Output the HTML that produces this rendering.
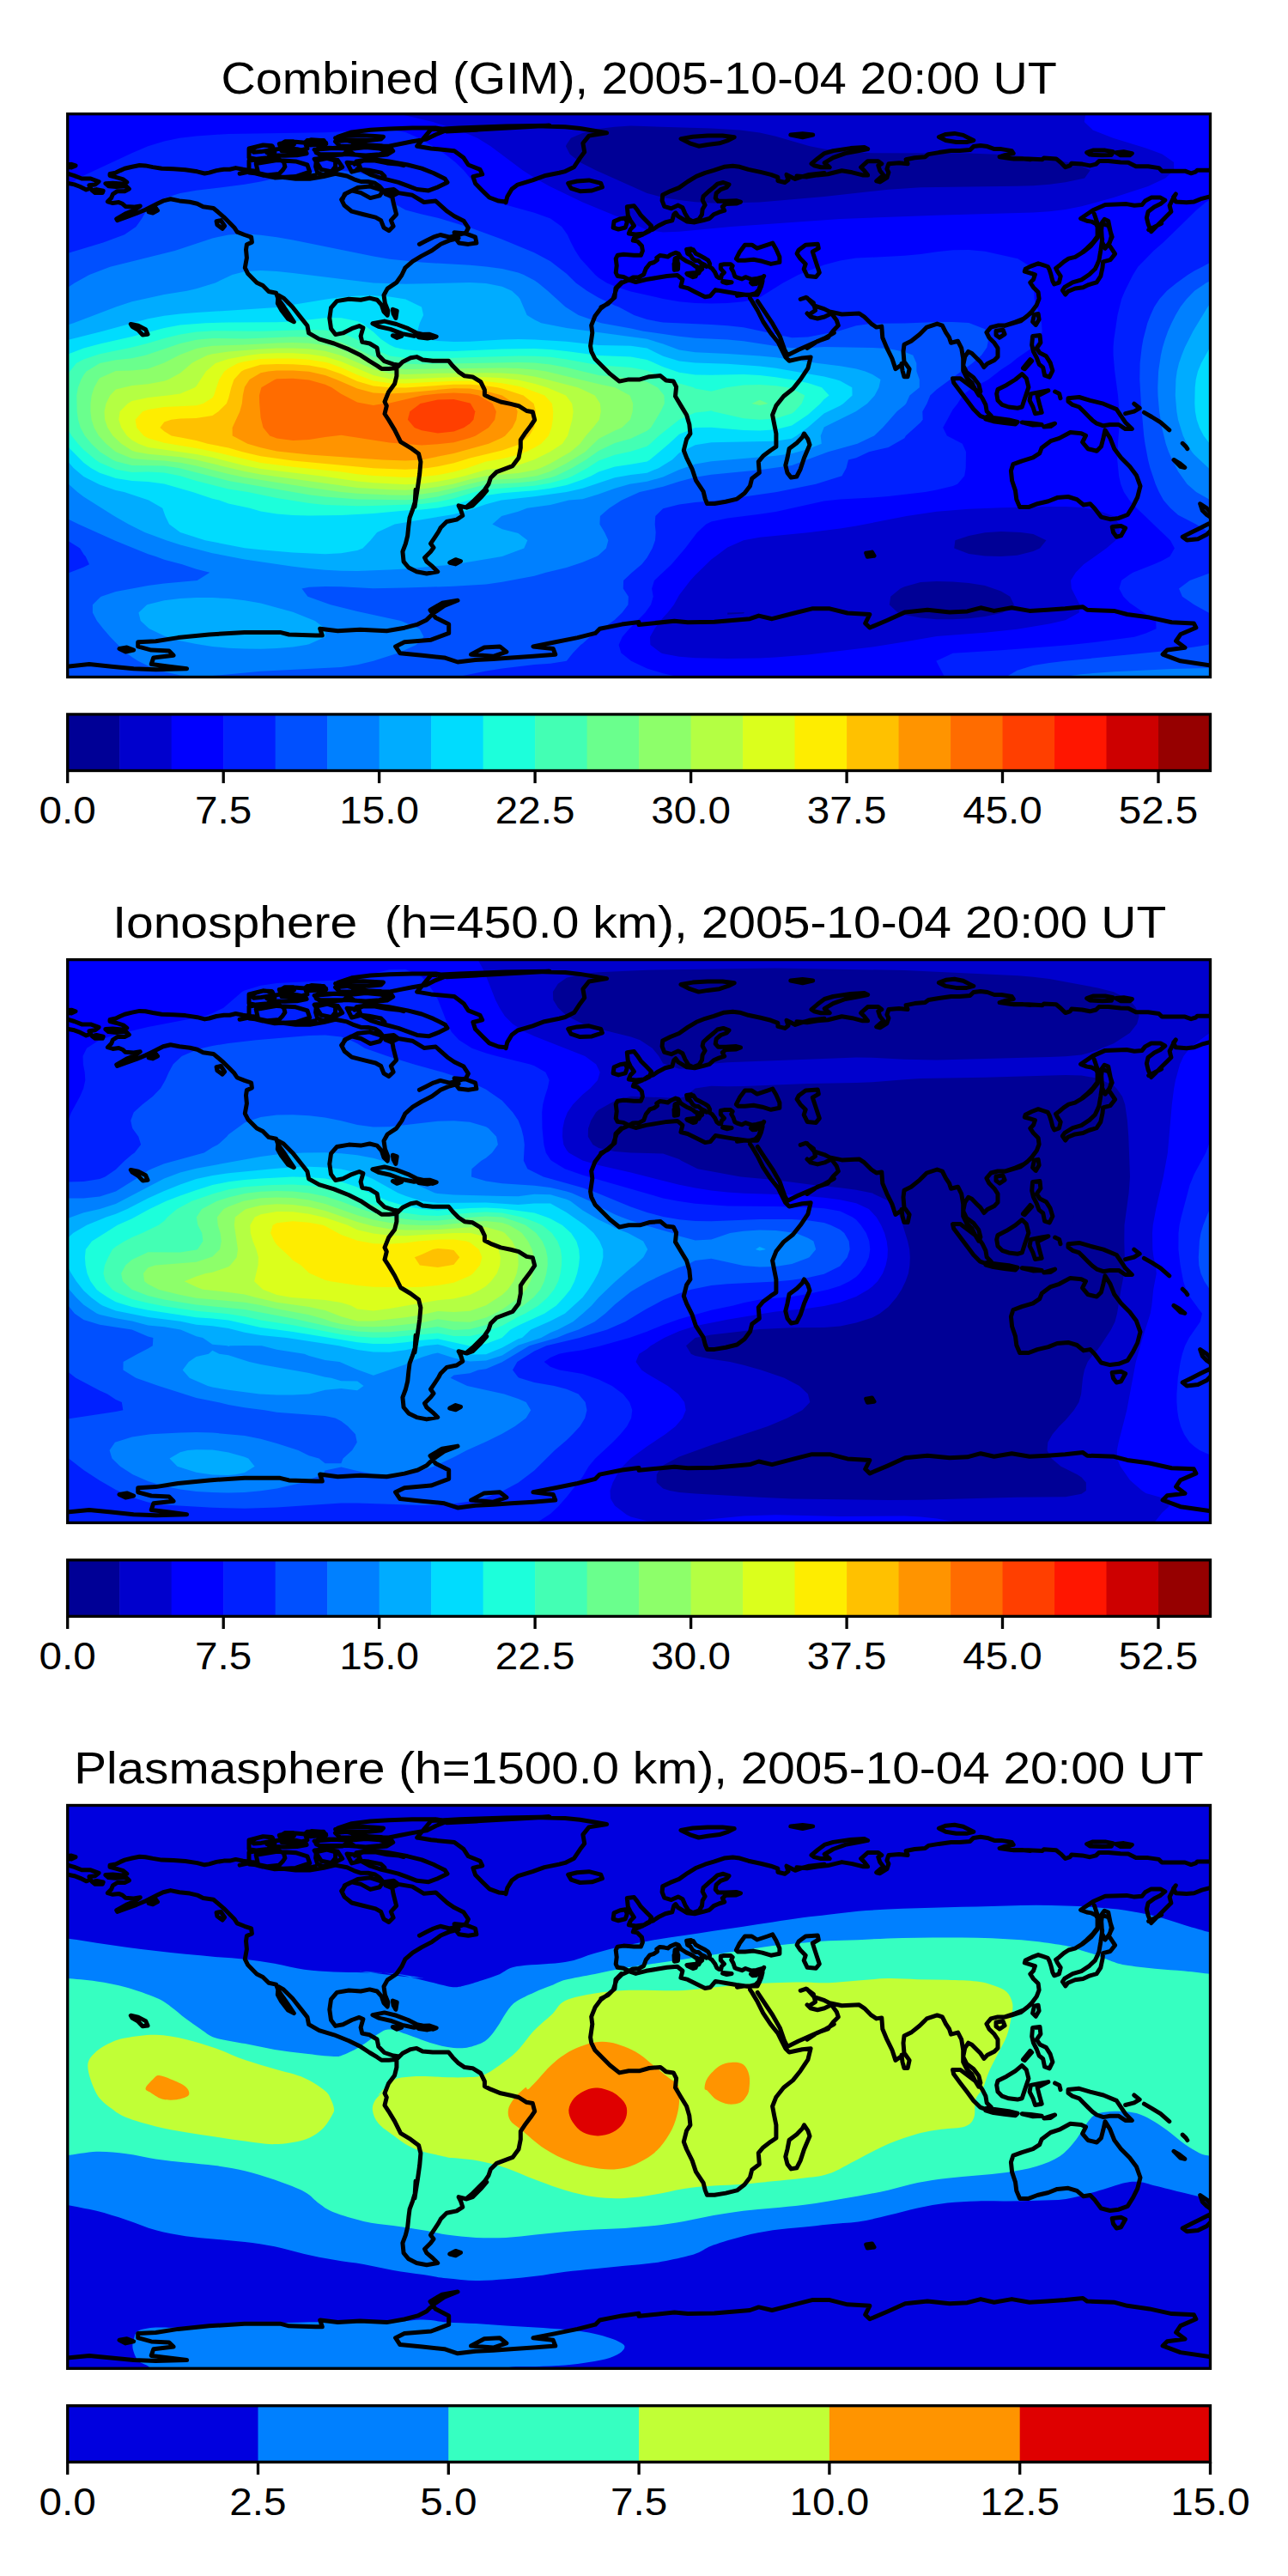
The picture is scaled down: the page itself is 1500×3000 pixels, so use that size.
<!DOCTYPE html><html><head><meta charset="utf-8"><style>html,body{margin:0;padding:0;background:#fff;}svg{display:block;}text{font-family:"Liberation Sans",sans-serif;fill:#000;}</style></head><body><svg xmlns="http://www.w3.org/2000/svg" xmlns:xlink="http://www.w3.org/1999/xlink" width="1500" height="3000" viewBox="0 0 1500 3000"><rect width="1500" height="3000" fill="#fff"/><defs><clipPath id="c0"><rect x="78.7" y="132.7" width="1330.8" height="655.8"/></clipPath><clipPath id="c1"><rect x="78.7" y="1117.6" width="1330.8" height="655.8"/></clipPath><clipPath id="c2"><rect x="78.7" y="2102.5" width="1330.8" height="655.8"/></clipPath><path id="coast" d="M78.0 191.7 83.2 191.3 88.0 192.9 83.2 195.1 78.0 194.6M74.6 201.1 78.0 202.0 86.6 204.6 95.2 208.0 105.6 208.0 115.1 211.5 110.7 214.9 103.9 215.8 105.6 219.2 100.4 221.0 93.5 217.5 86.6 214.9 78.0 213.2 74.6 212.9M107.3 221.8 112.5 220.6 120.2 222.2 119.4 224.4 110.7 224.4ZM172.8 243.9 181.4 242.2 183.5 245.1 178.0 248.0 173.1 246.8ZM252.1 257.7 257.2 256.6 261.6 263.2 259.0 266.3 252.9 261.8ZM300.0 199.4 291.7 198.6 283.1 197.3 274.5 195.6 267.6 197.3 260.7 197.3 252.1 198.6 243.5 201.1 238.3 202.0 229.7 199.8 215.9 197.7 202.1 196.8 188.3 196.3 178.0 194.6 169.3 192.9 162.5 192.5 153.8 194.2 145.2 196.3 140.0 198.6 134.9 201.1 128.0 202.5 128.0 204.6 134.9 206.3 143.5 208.9 147.8 212.3 141.8 214.1 131.4 213.2 122.8 213.7 126.3 216.7 134.9 217.5 146.9 216.7 150.4 220.1 145.2 222.7 136.6 222.7 131.4 226.1 129.7 230.4 125.4 234.8 131.4 236.5 138.3 235.6 142.6 237.3 146.1 240.4 155.6 241.1 163.3 239.9 157.3 244.2 146.9 248.5 135.7 254.9 136.6 256.6 146.9 252.8 159.0 248.5 169.3 244.2 176.2 240.8 183.1 237.3 190.0 233.9 198.6 231.8 209.0 233.9 221.1 235.3 229.7 237.3 236.6 240.8 248.6 242.5 253.8 246.8 260.7 252.8 267.6 259.7 272.8 264.9 276.2 270.1 284.8 273.5 292.6 276.1 293.4 282.1 287.4 284.7 286.5 290.8 287.4 300.2 285.3 311.9 288.8 318.8 299.1 329.2 306.1 332.6 313.0 339.5 321.6 341.3 324.0 348.2 330.2 356.8 337.2 367.2 342.3 374.8 335.4 371.3 327.5 360.9 323.3 353.3 324.0 343.7 330.2 347.1 340.6 357.5 351.0 370.6 357.9 379.3 359.6 387.9 371.7 394.8 389.0 400.0 406.3 406.9 420.1 413.8 430.5 420.7 439.1 425.9 444.3 429.4 452.9 429.4 459.8 428.7M465.0 425.2 458.1 424.2 447.7 420.7 440.8 413.8 439.1 405.2 430.5 400.0 421.8 398.3 420.1 391.4 422.9 381.7 418.4 379.6 409.7 382.7 399.4 387.9 390.7 389.6 385.5 382.7 383.8 370.6 385.5 358.5 392.4 350.6 406.3 348.2 420.1 349.2 430.5 347.1 439.1 349.2 444.3 355.1 447.0 363.0 451.2 367.2 451.9 362.0 448.4 353.3 447.0 343.7 451.2 336.1 461.6 329.2 467.8 320.5 471.9 311.9 480.6 304.3 490.9 298.1 503.0 291.8 513.4 284.2 523.1 280.1 534.1 277.3M433.9 376.8 447.7 374.1 461.6 377.5 475.4 382.7 485.7 387.9 492.7 389.6 482.3 391.4 468.5 388.6 454.6 383.4 440.8 380.3ZM485.7 389.6 500.3 389.3 508.2 392.0 497.8 394.1 487.5 392.7ZM457.4 390.7 467.8 391.4 462.2 393.4ZM457.4 360.3 462.2 362.0 460.9 370.6 458.1 365.4ZM152.3 377.5 160.9 379.3 169.6 383.8 172.0 389.3 166.1 390.0 160.9 384.4 154.0 380.3ZM402.8 225.5 416.6 218.6 430.5 216.9 444.3 221.3 456.4 226.2 458.1 235.9 461.6 249.7 455.3 256.6 458.1 263.5 452.9 268.7 447.0 265.2 443.6 256.6 437.4 253.1 423.5 249.7 409.7 246.2 401.1 239.3 397.6 232.4ZM290.0 173.0 306.3 168.9 317.2 170.2 319.9 177.0 311.7 183.8 298.2 185.2 290.0 183.8ZM298.2 190.6 322.6 186.5 344.3 187.9 357.9 192.0 360.7 200.1 344.3 205.6 319.9 206.9 300.9 202.9ZM325.3 167.5 338.9 164.8 355.2 166.2 357.9 173.0 344.3 177.0 328.0 175.7ZM357.9 163.5 377.0 163.5 379.7 167.5 360.7 168.9ZM366.1 174.3 382.4 173.0 398.7 171.6 412.3 173.0 425.9 171.6 442.2 173.0 453.0 175.7 442.2 179.8 425.9 181.1 406.8 179.8 387.8 179.8 371.5 179.8ZM366.1 185.2 379.7 183.8 393.3 186.5 398.7 194.7 387.8 200.1 374.2 197.4ZM404.1 189.3 417.7 190.6 420.4 197.4 409.6 200.1ZM409.6 153.9 431.3 151.2 453.0 149.9 480.2 149.0 507.4 149.0 521.0 151.2 507.4 156.7 496.5 162.1 480.2 164.8 466.6 167.5 453.0 170.2 436.7 170.2 420.4 167.5 404.1 163.5 393.3 159.4ZM390.5 164.8 404.1 163.5 415.0 166.2 409.6 170.2 396.0 170.2ZM415.0 187.9 431.3 185.2 453.0 187.9 474.8 192.0 491.1 196.1 504.7 201.5 518.3 208.3 521.0 212.4 510.1 217.8 499.2 221.9 485.7 220.5 474.8 216.4 463.9 212.4 453.0 209.6 442.2 206.9 431.3 203.4 420.4 197.4ZM447.6 221.9 458.5 220.5 463.9 224.6 455.8 228.7 449.0 226.0ZM279.1 202.3 290.0 200.1 306.3 204.2 322.6 205.6 344.3 208.3 360.7 208.3 377.0 205.6 390.5 202.3 404.1 205.0 412.3 208.8 420.4 211.5 428.6 211.5 436.7 213.2 442.2 217.0 446.2 221.9 442.2 227.9 431.3 230.6 420.4 224.6 409.6 221.9 401.4 226.0 398.7 232.7M455.8 223.2 463.9 224.6 480.2 227.3 493.8 235.5 507.4 234.1 521.0 246.3 529.1 251.8 540.0 257.2 545.4 265.4 542.7 270.8 534.6 273.5 523.7 276.2 512.8 273.5 504.7 276.2 496.5 280.3 488.4 284.4M529.1 270.8 542.7 272.1 553.6 276.2 554.9 283.0 545.4 284.4 534.6 283.0 530.5 277.6ZM485.7 170.2 502.0 173.0 529.1 175.7 540.0 183.8 545.4 192.0 559.0 197.4 561.7 202.9 550.9 205.6 553.6 213.7 561.7 221.9 569.9 230.0 580.8 234.1 588.9 234.9 589.1 235.9 590.8 229.0 596.0 220.3 602.9 215.1 620.2 209.9 634.0 204.8 651.3 201.3 658.2 199.6 668.6 194.4 675.5 184.0 680.7 177.1 678.9 166.8 685.9 158.1 706.6 154.7 675.5 149.5 658.2 147.7 623.7 146.7 589.1 147.7 554.6 151.2 520.0 152.9 640.0 146.3 588.9 147.1 534.6 149.0 502.0 150.7 485.7 170.2M661.7 213.4 672.0 211.0 685.9 209.9 699.7 213.4 701.4 217.9 689.3 222.0 675.5 222.7 665.1 219.3ZM793.0 161.6 806.8 159.2 824.1 158.1 841.4 158.1 855.2 159.8 848.3 163.3 837.9 166.8 824.1 168.5 813.7 170.2 803.3 166.8ZM920.8 157.1 934.7 155.7 946.7 157.1 934.7 159.8ZM730.3 240.8 738.4 239.7 742.4 244.8 746.4 250.8 752.5 256.9 758.5 263.0 756.5 269.0 750.5 272.0 740.4 273.1 732.3 272.0 734.3 267.0 738.4 263.0 734.3 256.9 731.3 250.8ZM715.1 257.9 722.2 254.9 728.3 253.9 730.3 258.9 728.3 265.0 720.2 267.0 714.1 265.0ZM960.0 201.4 942.2 203.4 932.1 206.4 926.1 208.5 920.0 205.4 916.0 203.4 918.0 209.5 914.0 212.5 905.9 210.5 905.9 206.4 897.8 203.4 885.7 200.4 871.6 197.4 861.5 194.3 853.4 193.3 843.3 194.3 831.2 198.4 821.1 201.4 811.0 205.4 800.9 211.5 790.8 218.6 780.7 222.6 771.7 227.0 771.1 233.7 773.7 240.4 781.8 242.8 789.8 239.1 794.9 241.8 797.9 248.8 801.9 255.3 807.0 257.9 814.0 255.3 817.5 249.8 818.1 243.8 821.1 238.7 818.1 233.1 819.1 228.6 825.2 223.0 831.2 218.1 835.6 214.1 842.3 212.5 849.0 214.9 846.3 218.1 839.3 220.6 834.2 225.0 833.2 230.7 836.3 234.3 845.3 234.3 857.4 233.7 862.5 235.1 857.4 237.1 845.3 237.5 841.3 240.8 843.7 245.2 837.3 247.2 831.2 249.8 826.2 254.5 819.1 256.5 809.0 258.9 799.9 257.9 794.9 254.9 789.8 251.9 786.8 247.8 784.8 249.8 782.8 256.9 774.7 258.9 766.6 263.0 760.6 267.0 754.5 269.0 748.4 273.1 743.4 275.1 738.4 277.1 737.3 280.1 742.4 281.1 747.4 286.2 748.4 292.2 746.4 297.3 738.4 297.3 726.2 296.3 719.2 297.3 717.2 301.3 718.2 309.4 717.2 317.5 719.2 321.5 726.2 322.5 732.3 325.5M857.4 301.3 861.5 293.2 867.5 285.2 875.6 285.2 881.7 289.2 893.8 285.2 899.8 283.1 903.9 290.2 907.9 299.3 907.9 305.4 897.8 307.4 887.7 304.3 877.6 302.3 867.5 303.3 859.5 303.3ZM930.1 291.2 938.2 285.2 952.3 284.2 953.3 289.2 946.3 293.2 950.3 305.4 954.3 317.5 950.3 322.5 940.2 321.5 936.2 313.4 938.2 307.4 932.1 301.3 928.1 295.3ZM700.0 357.8 708.1 353.8 714.1 347.7 716.1 341.7 718.2 335.6 724.2 329.6 732.3 325.9 740.4 328.6 752.5 325.5 764.6 323.5 776.7 321.5 788.8 320.5 794.9 325.5 792.9 333.6 800.9 335.6 809.0 339.7 821.1 345.7 827.2 344.7 833.2 337.6 845.3 339.7 857.4 341.7 871.6 343.7 879.7 341.7 883.7 337.6 887.7 325.5 889.7 321.5M945.0 190.7 952.1 184.7 960.2 178.6 970.3 175.6 990.5 172.6 1006.6 171.6 1010.6 173.6 1000.6 175.6 984.4 178.6 970.3 183.7 960.2 189.7 966.2 194.8 956.1 194.8 948.1 192.8ZM1093.4 159.5 1101.5 156.4 1111.6 155.4 1121.7 157.4 1129.7 161.5 1133.8 163.5 1125.7 165.5 1113.6 165.5 1101.5 163.5ZM927.9 204.9 940.0 205.9 952.1 203.9 964.2 202.8 976.3 199.8 980.4 198.8 992.5 200.8 1004.6 203.9 1010.6 203.9 1006.6 198.8 1002.6 194.8 1010.6 187.7 1022.8 187.7 1026.8 190.7 1022.8 192.8 1024.8 198.8 1028.8 203.9 1020.7 210.9 1024.8 211.9 1032.9 206.9 1034.9 200.8 1032.9 196.8 1034.9 190.7 1047.0 189.7 1057.1 190.7 1055.1 185.7 1065.2 183.7 1077.3 182.7 1081.3 179.6 1093.4 177.6 1107.5 175.6 1117.6 175.6 1129.7 174.6 1133.8 170.6 1141.9 169.5 1149.9 170.6 1158.0 173.6 1166.1 173.6 1178.2 175.6 1180.2 178.6 1170.1 180.6 1164.1 182.7 1178.2 184.7 1190.3 184.7 1200.0 185.7M1180.0 184.9 1197.9 184.9 1213.9 185.8 1215.7 184.0 1230.0 184.9 1235.4 189.3 1240.7 194.7 1246.1 192.9 1247.9 190.2 1260.4 191.1 1269.3 192.9 1276.4 191.1 1280.0 187.6 1290.7 187.6 1305.0 189.0 1313.9 189.3 1322.9 193.8 1337.1 193.8 1349.6 195.6 1353.2 199.2 1367.5 199.2 1380.0 199.2 1387.1 201.8 1392.5 200.1 1394.3 198.3 1410.0 198.3 1419.3 197.4M1265.7 177.7 1272.9 175.1 1287.1 175.1 1296.1 176.8 1294.3 180.4 1283.6 180.8 1269.3 180.1ZM1299.6 177.7 1308.6 176.8 1318.4 178.6 1315.7 180.8 1305.0 180.8ZM1419.3 226.8 1410.0 228.6 1399.6 231.3 1390.7 234.9 1381.8 235.8 1369.3 234.9 1366.6 229.5 1369.3 226.0 1365.7 232.2 1362.1 239.3 1363.9 246.5 1358.6 251.8 1353.2 257.2 1346.1 264.3 1340.7 269.7 1337.1 260.8 1335.4 253.6 1337.1 246.5 1344.3 241.1 1351.4 237.6 1356.8 233.1 1351.4 230.1 1340.7 230.1 1333.6 234.0 1330.0 238.5 1321.1 239.3 1312.1 237.6 1287.1 238.5 1272.9 244.7 1258.6 254.5 1265.7 257.2 1271.1 258.1 1276.4 260.8 1280.0 267.9 1278.2 275.1 1272.9 282.2 1265.7 289.3 1260.4 293.8M1286.2 255.4 1290.7 257.2 1294.3 275.1 1292.5 282.2 1287.1 289.3 1283.6 282.2 1282.7 267.9 1283.6 259.0ZM1274.3 249.0 1278.1 260.2 1278.1 277.0 1270.6 286.3 1261.3 293.7 1252.0 299.3 1244.5 301.2 1238.9 304.9 1233.4 309.6 1229.6 312.4 1231.5 316.1 1235.2 321.7 1233.4 329.1 1227.8 331.0 1225.9 327.3 1224.0 319.8 1222.2 314.2 1220.3 310.5 1214.7 308.6 1209.1 306.8 1201.7 309.6 1194.2 313.3 1193.3 316.1 1199.8 318.0 1205.4 319.8 1203.5 325.4 1199.8 329.1 1203.5 334.7 1209.1 340.3 1210.1 347.8 1207.3 355.2 1201.7 362.7 1196.1 368.3 1188.6 373.9 1179.3 376.7 1170.0 379.4M1282.7 260.2 1291.1 263.0 1295.2 276.0 1291.1 284.4 1298.6 295.6 1293.0 302.7 1284.6 304.9 1284.0 311.4 1281.8 321.7 1277.1 328.8 1267.8 331.6 1261.3 334.7 1252.0 336.0 1243.6 339.4 1240.8 343.1 1237.4 338.1 1239.9 334.4 1249.2 328.8 1259.4 325.8 1268.8 319.5 1275.3 313.3 1277.7 308.3 1279.9 303.1 1281.8 291.9 1283.7 278.8 1281.4 267.7ZM1204.5 366.4 1209.1 365.5 1210.1 372.0 1206.3 378.5 1202.6 374.8ZM1202.6 391.6 1211.0 390.6 1211.9 399.0 1207.3 405.5 1211.0 411.1 1218.4 414.8 1223.1 422.3 1225.9 431.6 1222.2 439.1 1216.6 437.2 1214.7 427.9 1210.1 424.2 1207.3 416.7 1203.5 409.3 1201.7 401.8ZM1191.4 428.8 1199.8 418.6 1201.7 420.4 1193.3 429.8ZM1337.7 267.7 1345.1 263.9 1352.6 260.2M940.0 346.8 948.1 355.9 960.2 359.9 966.2 363.0 980.4 366.0 1000.6 365.0 1006.6 369.0 1014.7 377.1 1020.7 381.1 1026.8 380.1 1027.8 393.2 1032.9 405.4 1038.9 417.5 1042.9 429.6 1049.0 425.5 1053.0 421.5 1052.0 409.4 1053.0 401.3 1061.1 397.3 1071.2 389.2 1079.3 381.1 1091.4 377.1 1097.4 379.1 1101.5 387.2 1105.5 393.2 1107.5 399.3 1115.6 397.3 1119.7 405.4 1121.7 417.5 1121.7 431.6 1125.7 439.7 1131.8 445.7 1135.8 453.8 1139.8 460.3 1141.9 455.8 1139.8 447.7 1133.8 439.7 1125.7 433.6 1121.7 425.5 1123.7 415.4 1127.7 409.4 1131.8 411.4 1137.8 417.5 1141.9 421.5 1145.9 427.6 1149.9 423.5 1158.0 419.5 1162.0 415.4 1162.0 405.4 1158.0 399.3 1151.9 393.2 1148.9 387.2 1154.0 381.1 1162.0 379.1 1170.1 379.1 1182.2 375.1 1192.3 371.0 1200.0 365.0M1050.0 423.5 1054.0 422.5 1059.1 429.6 1057.1 438.7 1053.0 438.7 1051.0 431.6ZM1160.0 385.2 1168.1 384.2 1170.1 389.2 1164.1 393.2 1160.0 390.2ZM940.0 365.0 944.0 369.0 952.1 371.0 960.2 369.0 968.3 365.0 974.3 373.1 976.3 379.1 970.3 385.2 964.2 393.2 952.1 397.3 940.0 405.4M723.5 328.9 717.0 335.4 715.9 346.3 708.3 352.8 699.6 359.3 693.0 368.0 688.7 378.9 689.8 387.6 687.6 402.8 688.7 409.3 693.0 418.0 701.7 426.7 710.4 435.4 721.3 444.1 732.2 441.9 745.2 441.9 756.1 438.7 769.1 437.6 775.7 443.0 784.3 444.1 787.6 450.6 786.5 461.5 793.0 472.4 799.6 483.2 802.8 494.1 803.9 505.0 799.6 511.5 796.3 524.5 799.6 533.2 806.1 546.3 810.4 559.3 819.1 572.4 821.3 581.1 823.5 586.5 832.2 586.5 845.2 584.3 858.3 581.1 867.0 574.5 873.5 565.9 875.7 557.2 884.3 550.6 883.3 537.6 888.7 531.1 897.4 524.5 903.9 520.2 903.9 505.0 901.7 494.1 899.6 483.2 903.9 472.4 912.6 461.5 923.5 452.8 932.2 441.9 940.9 428.9 944.1 415.9 934.3 416.9 919.1 420.2 914.8 415.9 910.4 407.2 906.1 398.5 897.4 387.6 888.7 374.5 882.2 361.5 875.7 350.6 873.5 347.4M882.2 350.6 890.9 363.7 899.6 376.7 908.3 391.9 913.7 407.2 917.0 413.7 930.0 407.2 945.2 400.6 960.0 394.1 971.3 387.6M936.5 505.0 940.9 511.5 943.0 518.0 936.5 533.2 932.2 546.3 927.8 555.0 921.3 556.1 917.0 550.6 914.8 541.9 917.0 533.2 919.1 522.4 927.8 515.9 934.3 509.3ZM932.2 348.5 938.7 346.3 947.4 352.8 949.6 361.5 943.0 365.9M461.9 428.4 468.9 421.4 478.2 416.8 485.2 415.6 492.2 419.1 503.9 420.3 513.2 420.3 522.5 420.3 527.2 426.1 534.1 433.1 541.1 437.8 550.4 438.9 559.8 444.7 564.4 454.1 564.4 459.9 571.4 463.4 583.1 468.0 594.7 470.4 604.0 472.7 613.3 478.5 620.3 479.7 622.7 489.0 618.0 496.0 611.0 505.3 606.3 512.3 606.3 521.6 604.0 533.3 597.0 542.6 587.7 546.1 578.4 549.6 571.4 556.5 569.1 563.5 564.4 570.5 557.4 577.5 550.4 584.5 543.5 590.3 566.8 571.4 559.8 579.5 550.4 588.8 543.5 591.2 534.1 588.8 536.5 593.5 538.8 600.5 531.8 605.1 520.2 607.5 513.2 614.5 510.8 619.1 506.2 626.1 501.5 633.1 505.0 637.8 501.5 642.4 494.5 649.4 496.9 654.1 503.9 659.9 509.7 665.7 496.9 668.0 485.2 665.7 475.9 661.0 470.1 654.1 468.9 642.4 472.4 633.1 474.7 623.8 475.9 612.1 477.1 602.8 480.6 593.5 484.1 581.8 484.1 570.2 482.9 590.3 486.4 568.2 488.7 551.9 489.9 537.9 487.6 528.6 478.2 521.6 466.6 514.6 459.6 500.6 452.6 489.0 448.0 482.0 450.3 472.7 448.0 468.0 452.6 456.4 459.6 447.1 461.9 437.8 461.9 428.4M523.7 655.2 530.6 651.7 536.5 653.6 530.6 656.9ZM501.5 391.2 507.4 392.3 503.9 393.5ZM67.7 776.2 78.0 776.2 103.9 773.6 129.7 776.2 155.6 778.8 181.4 779.8 217.6 778.8 196.9 776.2 176.2 773.6 178.8 765.9 202.1 763.3 196.9 758.1 176.2 757.1 160.7 752.9 160.7 747.8 181.4 746.7 207.3 742.6 243.5 739.0 284.8 736.4 326.2 736.4 336.5 739.0 367.6 740.0 375.3 740.0 372.7 732.2 393.4 734.8 419.3 733.3 450.3 734.8 471.0 731.2 486.5 727.1 496.8 721.9 504.6 714.2 517.5 705.4 533.0 699.2 514.9 702.3 501.0 710.5 507.2 719.3 522.7 727.1 522.7 737.4 502.0 745.2 471.0 747.8 460.6 752.9 465.8 760.7 491.7 763.3 517.5 765.9 533.0 771.0 553.7 768.4 574.4 767.4 595.1 765.9 620.9 764.3 646.8 762.2 644.2 755.5 620.9 752.9 646.8 747.8 672.6 742.6 693.3 737.4 698.5 732.2 724.3 727.1 744.0 724.5M139.0 755.5 147.8 754.0 155.6 757.1 146.3 759.1ZM548.5 762.2 564.0 754.0 582.1 752.9 589.9 759.1 574.4 764.3ZM744.0 727.4 785.4 723.3 800.9 724.8 831.9 724.3 873.3 720.7 883.6 717.1 899.1 720.7 925.0 714.0 945.7 708.8 966.3 708.8 987.0 714.0 1012.9 715.5 1007.7 725.9 1012.9 731.0 1033.6 722.2 1054.2 712.9 1080.1 710.3 1105.9 712.9 1126.6 711.9 1142.1 707.8 1157.7 711.4 1178.3 707.8 1199.0 711.4 1219.7 710.3 1240.4 708.8 1261.1 706.7 1266.2 710.3 1297.3 711.4 1312.8 715.5 1338.6 719.1 1364.5 724.8 1390.3 725.9 1392.9 731.0 1374.8 738.8 1369.6 746.5 1380.0 754.3 1359.3 756.9 1354.1 762.1 1374.8 769.8 1410.0 775.0 1426.5 776.0M1008.7 644.2 1015.5 643.1 1018.0 647.3 1010.3 648.3ZM1109.5 440.7 1118.4 440.7 1128.7 448.4 1138.9 456.1 1144.1 463.8 1147.9 471.4 1149.2 479.1 1154.3 484.3 1151.7 488.1 1141.5 484.3 1133.8 476.6 1126.1 466.3 1118.4 456.1 1110.7 445.8ZM1149.2 485.5 1162.0 487.3 1174.8 488.9 1185.0 491.4 1182.5 494.0 1169.7 492.5 1156.9 490.7 1147.9 488.1ZM1190.2 491.9 1200.4 492.7 1213.2 494.5 1203.0 495.0ZM1215.8 497.1 1228.6 493.2 1223.5 496.6ZM1162.0 453.5 1172.2 448.4 1182.5 442.0 1190.2 435.6 1195.3 440.7 1197.9 450.9 1195.3 458.6 1192.7 466.3 1190.2 474.0 1185.0 475.3 1174.8 474.0 1167.1 471.4 1162.0 466.3 1160.7 458.6ZM1200.4 458.6 1213.2 456.1 1220.9 454.8 1208.1 461.2 1210.7 471.4 1213.2 480.4 1205.5 481.7 1203.0 474.0 1199.1 466.3ZM1244.0 463.8 1256.8 462.5 1269.6 466.3 1285.0 470.2 1300.3 476.6 1305.5 484.3 1310.6 491.9 1318.3 499.6 1310.6 499.6 1302.9 494.5 1292.7 494.5 1285.0 495.8 1277.3 493.2 1272.2 489.4 1267.0 484.3 1261.9 479.1 1256.8 474.0 1249.1 471.4 1244.0 467.6ZM1177.4 548.3 1179.9 540.6 1190.2 536.8 1203.0 532.9 1210.7 527.8 1213.2 521.4 1223.5 513.7 1233.7 510.4 1246.5 503.5 1259.3 504.8 1264.5 507.3 1260.6 515.0 1267.0 522.7 1277.3 525.2 1282.4 520.1 1285.0 509.9 1287.0 500.9 1292.7 509.9 1297.8 522.7 1305.5 532.9 1315.7 543.2 1323.4 553.4 1328.0 566.2 1324.7 579.1 1319.6 589.3 1313.2 599.5 1302.9 603.4 1292.7 604.7 1282.4 602.1 1274.7 591.9 1269.6 586.7 1261.9 588.0 1254.2 581.6 1244.0 578.5 1231.2 579.6 1220.9 583.7 1208.1 586.7 1197.9 590.6 1187.6 590.6 1183.8 581.6 1182.5 571.4 1178.6 559.8ZM1295.2 613.6 1305.5 612.4 1310.6 614.9 1305.5 623.9 1300.3 625.2 1296.5 620.0ZM1310.6 481.7 1320.8 479.1 1327.2 475.3 1320.8 470.2M1332.4 480.4 1341.3 485.5 1351.6 491.9 1361.8 500.9M1377.2 516.3 1381.1 520.1 1382.8 522.7M1367.0 535.5 1373.4 539.3 1379.8 544.5 1374.6 543.2ZM1228.6 456.1 1233.7 458.6 1235.0 463.8M1397.7 586.7 1405.4 591.9 1410.0 597.0 1413.1 604.7 1405.4 599.5 1400.3 594.4ZM1377.2 625.2 1387.5 620.0 1397.7 614.9 1408.0 609.8 1413.1 614.9 1405.4 622.6 1395.1 627.7 1382.3 629.0ZM732.5 325.7 737.0 323.1 744.1 322.7 749.7 319.7 752.3 312.6 754.2 310.3 756.8 307.0 761.7 305.5 765.5 302.8 764.7 300.2 768.5 297.6 773.7 298.3 777.8 299.1 780.8 296.8 786.8 294.2 790.2 295.3 792.8 299.8 795.5 301.7 799.6 304.3 804.1 306.2 806.7 307.7 809.7 310.0 811.9 310.7 812.3 314.8 811.9 318.2 813.8 318.2 815.3 315.2 817.6 313.3 815.7 311.1 817.9 308.8 820.9 309.6 822.8 310.3 820.9 308.5 816.8 306.6 813.4 303.6 810.1 303.6 806.7 301.3 804.1 297.2 800.7 295.3 799.6 290.5 804.8 289.7 804.4 292.0 807.4 290.8 810.4 295.3 814.9 297.6 821.3 301.0 824.7 303.2 826.6 307.0 826.2 310.7 829.2 312.6 832.6 317.1 834.8 321.9 837.4 323.8 839.7 323.8 840.4 320.1 842.3 318.6 843.4 317.4 839.3 312.9 839.3 308.5 843.4 307.7 850.9 307.7 853.2 309.6 851.7 312.6 853.9 316.3 855.8 321.9 858.4 323.1 864.1 324.9 868.2 322.7 875.3 325.3 880.9 324.6 888.0 322.7 888.0 327.6 886.5 333.6 884.3 338.8 882.0 343.3 874.5 343.3 865.9 343.3 858.4 344.4M799.9 318.6 810.1 317.4 811.9 317.1 810.1 321.9 807.1 322.7 800.7 319.7ZM785.0 307.0 789.8 307.0 789.5 313.7 785.3 314.4ZM788.7 299.8 789.1 305.1 785.7 304.0 786.1 301.0ZM841.9 327.6 852.1 328.7 846.4 329.8 841.6 328.3ZM874.5 329.1 883.2 327.2 880.5 330.6 876.4 330.9ZM292.1 174.5 298.4 171.1 306.8 169.0 316.6 169.7 317.9 172.4 312.4 175.2 304.0 176.6 295.6 177.3ZM326.3 168.3 331.9 164.8 341.7 164.8 342.4 168.3 336.1 170.4 329.1 171.1ZM311.0 178.0 317.9 174.5 331.9 172.4 345.9 173.8 355.7 175.9 357.1 178.7 345.9 180.8 331.9 181.3 317.9 180.8ZM356.4 164.8 362.7 162.7 373.8 163.4 379.4 166.2 373.8 168.3 362.7 167.6ZM366.9 174.5 373.8 171.8 387.8 172.4 401.8 173.1 404.6 176.6 399.0 180.1 387.8 180.8 373.8 180.1 368.3 178.0ZM290.0 187.1 301.2 185.7 311.0 185.0 324.9 185.7 330.5 188.5 331.9 194.1 329.1 198.3 324.9 202.5 311.0 203.9 301.2 201.8 292.8 199.7 290.0 196.9ZM368.3 187.1 380.8 184.3 390.6 187.1 390.6 194.1 385.0 201.1 376.6 203.9 369.7 201.1 367.6 194.1ZM390.6 160.6 401.8 158.5 422.8 157.8 436.7 158.5 446.5 159.2 443.7 162.0 429.7 163.4 415.8 163.4 401.8 163.4ZM406.0 173.1 415.8 170.4 429.7 169.0 443.7 169.7 454.9 171.8 457.7 175.9 450.7 180.1 436.7 181.5 422.8 181.5 413.0 180.1 407.4 176.6ZM413.0 191.3 422.8 187.1 436.7 187.1 450.7 189.9 464.7 191.3 470.0 192.7M415.8 196.9 429.7 198.3 443.7 201.1 447.9 205.3M290.0 201.1 304.0 202.5 317.9 205.3 331.9 206.7 345.9 206.7 359.9 205.3 366.9 203.9" fill="none" stroke="#000" stroke-width="5" stroke-linejoin="round" stroke-linecap="round"/></defs><g clip-path="url(#c0)"><rect x="78.7" y="132.7" width="1330.8" height="655.8" fill="#000096"/><path fill="#0000cd" fill-rule="evenodd" d="M78.7 132.7 1409.5 132.7 1409.5 788.5 78.7 788.5 78.7 132.7ZM697.2 150.1 678.5 154.9 664.9 160.8 659.8 168.2 658.9 170.2 663.6 179.5 675.5 188.9 693.8 198.3 753.5 225.1 772.2 230.0 791.0 233.1 809.7 235.3 828.4 236.4 847.2 236.6 884.7 235.6 959.7 229.1 1034.6 220.7 1072.1 218.2 1184.6 216.8 1203.3 216.2 1222.1 214.8 1240.8 212.3 1263.1 207.6 1269.7 198.3 1259.6 193.4 1243.6 188.9 1222.1 185.5 1184.6 181.3 1165.8 179.9 1128.3 178.4 1015.9 178.2 997.1 177.4 978.4 175.8 959.7 173.4 943.1 170.2 903.4 158.8 884.7 154.6 861.7 151.4 828.4 149.4 734.7 146.6 716.0 147.7 697.2 150.1ZM847.2 713.5 847.2 715.8 865.9 714.6 867.1 713.6 865.9 712.9 847.2 713.5ZM1053.4 683.2 1048.5 685.4 1037.2 694.8 1035.8 704.2 1045.6 713.6 1053.4 716.0 1072.1 719.6 1090.9 721.2 1109.6 721.3 1128.3 720.3 1147.1 718.0 1167.8 713.6 1181.0 704.2 1176.3 694.8 1165.8 688.5 1147.1 682.1 1128.3 678.9 1109.6 677.5 1090.9 677.0 1072.1 678.1 1053.4 683.2ZM1165.8 618.9 1147.1 620.3 1128.3 623.9 1112.4 629.2 1111.2 638.6 1128.3 644.9 1147.1 647.4 1165.8 647.9 1184.6 646.7 1203.3 642.1 1211.0 638.6 1218.5 629.2 1203.3 622.0 1188.9 619.9 1165.8 618.9Z"/><path fill="#0000ff" fill-rule="evenodd" d="M78.7 132.7 465.2 132.7 504.2 142.1 534.0 151.4 547.3 156.9 556.0 160.8 571.3 170.2 608.7 198.3 622.3 207.1 640.2 217.0 678.5 235.6 716.0 250.9 726.5 254.5 734.7 259.1 753.5 267.9 772.2 270.4 791.0 269.7 851.6 263.9 978.4 254.9 1090.9 250.8 1203.3 247.5 1222.1 246.3 1240.8 244.0 1259.6 240.3 1297.0 230.0 1337.0 217.0 1357.2 207.6 1367.2 198.3 1367.1 188.9 1353.5 179.5 1334.5 172.5 1296.3 160.8 1272.7 151.4 1262.8 142.1 1264.2 132.7 1409.5 132.7 1409.5 788.5 78.7 788.5 78.7 132.7ZM1165.8 591.3 1128.3 592.7 1090.9 595.8 1055.8 601.1 997.1 612.5 978.4 615.6 940.9 620.3 884.7 625.8 865.9 629.3 847.2 637.6 833.2 648.0 828.4 651.6 809.7 669.7 804.0 676.1 791.0 693.1 784.8 704.2 777.6 713.6 772.2 719.2 762.3 732.3 757.0 741.7 757.4 751.0 770.0 760.4 772.2 761.2 791.0 764.8 809.7 766.3 847.2 767.1 884.7 766.6 903.4 765.6 940.9 762.4 1015.9 753.4 1053.4 747.6 1090.9 740.9 1147.1 736.7 1184.6 732.7 1222.1 726.6 1240.8 722.3 1256.7 713.6 1257.5 704.2 1247.9 685.4 1247.0 676.1 1252.8 666.7 1262.1 657.3 1288.5 638.6 1299.3 629.2 1303.9 619.9 1303.4 610.5 1296.4 601.1 1278.3 594.3 1259.6 590.9 1240.8 589.9 1222.1 589.9 1165.8 591.3Z"/><path fill="#0020ff" fill-rule="evenodd" d="M431.3 151.4 453.6 150.9 458.1 151.4 472.3 154.0 487.5 160.8 509.8 173.8 518.3 179.5 530.4 188.9 540.0 198.3 547.6 207.6 553.9 217.0 562.3 226.4 566.0 228.9 578.9 235.8 622.3 247.8 641.1 254.5 654.2 263.9 660.8 273.2 665.0 282.6 670.0 292.0 676.0 301.3 693.2 320.1 697.2 323.6 706.7 329.4 716.0 333.6 734.7 339.4 772.2 347.9 791.0 351.2 809.7 353.0 828.4 353.5 847.2 353.0 865.9 351.2 880.9 348.2 884.7 346.6 911.9 329.4 929.9 320.1 940.9 315.4 959.7 308.6 978.4 303.4 997.1 300.6 1053.4 297.7 1072.1 296.0 1090.9 293.3 1109.6 291.3 1128.3 291.1 1147.1 292.8 1185.3 301.3 1200.5 310.7 1203.4 320.1 1204.6 348.2 1210.7 366.9 1213.0 376.3 1213.7 385.7 1211.2 395.0 1202.8 404.4 1184.6 416.9 1177.4 423.1 1165.8 430.6 1151.1 441.9 1147.1 444.3 1132.5 451.2 1128.3 454.5 1121.0 460.6 1115.2 470.0 1109.6 477.0 1098.2 498.1 1102.9 507.4 1120.8 516.8 1125.0 526.2 1124.7 544.9 1123.2 554.3 1115.1 563.7 1109.6 565.9 1090.9 570.5 1077.5 573.0 1034.6 578.0 1015.9 579.6 978.4 581.6 959.7 583.4 903.4 596.0 884.7 598.8 847.2 603.5 828.4 607.6 822.3 610.5 812.0 619.9 798.0 638.6 782.0 657.3 762.0 676.1 759.1 685.4 760.8 694.8 758.0 704.2 751.4 713.6 732.9 732.3 724.7 741.7 720.6 751.0 723.4 760.4 735.0 769.8 753.5 778.5 772.2 784.2 791.1 788.5 78.7 788.5 78.7 216.6 91.5 207.6 97.4 204.5 153.7 178.3 172.4 170.2 191.2 164.6 209.1 160.8 228.6 158.4 266.1 155.9 378.6 154.3 431.3 151.4ZM1404.0 235.8 1409.5 232.3 1409.5 788.5 1100.1 788.5 1090.3 769.8 1109.6 760.8 1165.8 757.3 1222.1 753.0 1246.6 751.0 1278.3 747.5 1321.2 741.7 1334.5 737.6 1346.5 732.3 1346.2 722.9 1315.8 702.2 1308.3 694.8 1303.4 685.4 1306.0 676.1 1315.8 668.9 1319.5 666.7 1343.6 657.3 1353.3 653.0 1362.4 648.0 1367.9 638.6 1362.9 629.2 1323.8 591.8 1315.3 582.4 1308.9 573.0 1305.2 563.7 1303.1 554.3 1301.2 535.5 1301.9 516.8 1303.4 498.1 1303.6 479.3 1302.0 460.6 1298.2 432.5 1296.6 413.8 1296.5 404.4 1297.3 395.0 1301.5 366.9 1306.1 348.2 1310.1 338.8 1319.5 320.1 1325.3 310.7 1343.6 292.0 1354.6 282.6 1393.0 245.1 1404.0 235.8Z"/><path fill="#0050ff" fill-rule="evenodd" d="M321.7 207.6 341.1 203.6 359.9 200.7 378.6 199.1 397.3 198.8 416.1 200.5 434.8 206.3 437.0 207.6 445.2 217.0 449.8 226.4 456.6 235.8 472.3 244.5 491.1 249.6 509.8 253.7 547.3 264.9 584.8 278.8 622.3 294.3 641.0 304.3 659.8 318.7 670.7 329.4 683.7 338.8 697.2 346.8 716.0 355.8 720.7 357.5 738.4 366.9 753.5 372.1 772.2 375.5 828.4 378.1 847.2 379.3 865.9 381.3 922.2 393.3 940.9 392.4 976.0 385.7 997.1 379.2 1015.9 376.7 1053.4 376.6 1090.9 375.0 1109.6 374.9 1128.3 376.0 1147.1 383.3 1149.2 385.7 1151.2 395.0 1149.4 404.4 1143.0 413.8 1132.4 423.1 1090.9 453.6 1083.3 460.6 1079.5 470.0 1074.3 479.3 1074.7 488.7 1072.1 491.9 1054.9 507.4 1053.4 510.3 1034.6 520.9 1012.0 526.2 997.1 533.3 988.0 535.5 985.6 544.9 980.5 554.3 950.2 563.7 904.5 573.0 839.0 582.4 809.7 585.1 791.0 587.4 772.2 592.3 763.3 601.1 762.7 610.5 763.7 619.9 763.0 629.2 759.7 638.6 753.5 649.6 747.3 657.3 736.0 666.7 726.1 676.1 725.8 685.4 731.9 694.8 731.5 704.2 724.5 713.6 716.0 721.8 697.2 735.5 687.1 741.7 678.5 749.6 676.3 751.0 667.2 760.4 659.8 769.8 641.0 772.7 622.3 773.9 584.8 778.4 566.0 781.4 531.5 788.5 78.7 788.5 78.7 667.8 97.4 660.6 104.0 657.3 99.7 648.0 97.4 645.6 93.1 638.6 78.7 629.4 78.7 294.9 120.1 282.6 145.0 273.2 158.5 263.9 165.2 254.5 170.6 245.1 172.4 243.0 181.1 235.8 191.2 230.8 209.9 225.1 228.6 221.8 284.9 214.8 303.6 211.6 321.7 207.6ZM1400.1 310.7 1409.5 305.8 1409.5 620.7 1392.8 610.5 1372.0 599.8 1363.1 591.8 1355.0 582.4 1349.8 573.0 1345.7 563.7 1339.4 544.9 1337.0 535.5 1333.5 516.8 1332.2 507.4 1328.9 470.0 1327.3 441.9 1327.6 423.1 1329.7 404.4 1331.4 395.0 1336.3 376.3 1339.9 366.9 1344.2 357.5 1350.3 348.2 1358.9 338.8 1370.3 329.4 1383.5 320.1 1390.8 315.5 1400.1 310.7ZM1385.6 676.1 1409.5 667.2 1409.5 715.1 1407.6 713.6 1390.8 704.2 1376.9 694.8 1373.0 685.4 1385.6 676.1ZM1406.1 751.0 1409.5 749.8 1409.5 788.5 1171.5 788.5 1184.6 780.7 1203.3 774.9 1222.1 771.9 1240.8 769.8 1353.3 758.5 1390.8 753.6 1406.1 751.0Z"/><path fill="#0080ff" fill-rule="evenodd" d="M269.7 273.2 284.9 272.3 303.6 273.7 322.4 276.2 341.1 279.5 434.8 298.5 453.6 301.7 491.1 305.6 547.3 308.7 566.0 310.4 584.8 312.9 603.5 317.5 609.9 320.1 622.3 326.4 626.7 329.4 637.9 338.8 658.6 357.5 673.7 366.9 700.1 376.3 734.7 382.5 749.3 385.7 791.0 391.8 809.7 393.7 847.2 395.4 865.9 397.2 903.4 403.1 922.2 405.3 940.9 405.3 959.7 404.1 1015.9 404.9 1034.6 406.0 1053.4 409.8 1063.3 413.8 1067.3 423.1 1067.4 432.5 1070.8 441.9 1070.8 451.2 1059.4 460.6 1055.2 470.0 1053.4 472.1 1044.5 479.3 1028.0 498.1 1018.1 507.4 998.5 516.8 964.4 526.2 922.2 542.0 884.7 547.2 828.4 552.7 809.7 555.8 791.0 560.7 772.2 566.8 745.0 573.0 724.0 582.4 709.6 591.8 698.9 601.1 698.4 610.5 704.1 619.9 708.4 629.2 705.9 638.6 697.2 646.4 694.7 648.0 678.5 654.8 659.8 661.0 635.8 666.7 622.3 670.7 584.8 677.7 566.0 680.5 528.5 682.7 472.3 684.6 434.8 685.2 397.3 683.3 378.6 682.9 359.9 683.8 351.5 685.4 358.4 694.8 385.0 704.2 416.1 711.9 466.7 722.9 488.5 732.3 493.5 741.7 484.6 751.0 463.9 760.4 434.8 769.8 416.1 774.3 397.3 777.0 303.6 781.8 247.4 787.1 228.6 788.1 209.9 786.5 191.2 782.2 182.1 779.1 172.4 775.4 160.8 769.8 153.7 765.3 147.5 760.4 137.4 751.0 128.4 741.7 120.2 732.3 112.9 722.9 107.9 713.6 107.9 704.2 116.2 696.0 117.8 694.8 134.9 688.9 172.4 681.9 191.2 679.6 229.7 676.1 244.3 666.7 228.6 662.8 212.1 657.3 191.2 651.8 181.3 648.0 172.4 645.2 134.9 629.9 91.5 610.5 78.7 604.2 78.7 334.9 87.0 329.4 104.1 320.1 128.3 310.7 203.6 292.0 247.4 277.4 266.1 273.5 269.7 273.2ZM1404.7 329.4 1409.5 326.9 1409.5 582.3 1393.1 573.0 1382.5 563.7 1372.0 549.0 1365.2 535.5 1361.0 526.2 1357.7 516.8 1353.1 498.1 1350.1 479.3 1348.5 460.6 1348.3 451.2 1349.1 432.5 1351.9 413.8 1354.0 404.4 1356.9 395.0 1360.2 385.7 1364.4 376.3 1369.1 366.9 1374.7 357.5 1381.9 348.2 1391.1 338.8 1404.7 329.4ZM1366.2 779.1 1409.5 778.0 1409.5 788.5 1235.4 788.5 1259.6 785.2 1297.0 782.2 1366.2 779.1Z"/><path fill="#00acff" fill-rule="evenodd" d="M270.5 320.1 284.9 316.3 303.6 315.1 322.4 316.1 341.1 318.0 434.8 329.5 472.3 330.8 547.3 329.1 566.0 330.1 584.8 333.8 596.1 338.8 603.5 345.5 605.6 348.2 613.7 366.9 622.3 372.3 630.4 376.3 659.8 382.1 753.5 394.8 772.2 400.6 791.0 407.6 809.7 410.3 847.2 411.9 884.7 414.4 903.4 416.3 952.3 423.1 978.4 426.2 997.1 429.6 1007.6 432.5 1015.9 436.0 1025.5 441.9 1023.5 451.2 1018.7 460.6 1010.0 470.0 996.6 479.3 959.7 497.5 955.7 507.4 956.8 516.8 940.9 522.9 922.2 528.2 903.4 530.7 828.4 537.2 809.7 540.5 791.0 546.9 772.2 555.6 753.5 560.7 733.3 563.7 716.0 568.7 697.2 575.6 678.5 581.3 662.4 582.4 641.0 588.0 614.0 591.8 603.5 595.8 584.2 601.1 573.4 610.5 584.8 616.3 603.5 621.0 614.3 629.2 610.3 638.6 584.8 648.0 528.5 657.5 472.3 662.4 453.6 663.6 416.1 664.9 397.3 664.7 378.6 663.8 359.9 662.1 341.1 659.8 284.9 651.5 247.4 644.2 209.9 634.6 193.7 629.2 168.7 619.9 149.7 610.5 133.1 601.1 97.4 578.6 90.2 573.0 78.7 562.8 78.7 378.4 85.6 376.3 134.9 357.6 153.7 351.3 191.2 343.1 217.7 338.8 228.6 336.2 250.6 329.4 270.5 320.1ZM1406.5 357.5 1409.5 353.4 1409.5 547.1 1390.8 529.5 1388.1 526.2 1382.2 516.8 1377.8 507.4 1372.0 488.7 1370.4 479.3 1368.8 460.6 1369.4 441.9 1370.7 432.5 1373.0 423.1 1376.2 413.8 1379.9 404.4 1389.4 385.7 1406.5 357.5ZM171.2 704.2 191.2 699.3 209.9 697.0 228.6 696.0 247.4 696.1 266.1 697.1 284.9 699.2 303.6 702.6 341.1 712.8 366.7 722.9 378.9 732.3 378.7 741.7 359.9 750.2 356.5 751.0 341.1 753.4 322.4 755.0 303.6 755.7 284.9 755.5 266.1 754.7 247.4 753.0 228.6 750.1 209.9 746.3 194.9 741.7 191.2 740.4 174.0 732.3 172.4 731.1 163.8 722.9 161.4 713.6 171.2 704.2Z"/><path fill="#00dcfe" fill-rule="evenodd" d="M381.7 348.2 397.3 346.2 416.1 344.6 434.8 344.2 453.6 345.5 472.3 348.4 491.0 357.5 493.1 366.9 488.8 376.3 486.1 385.7 491.1 390.9 496.4 395.0 509.8 397.1 528.5 398.0 547.3 397.7 584.8 395.4 603.5 395.0 622.3 395.5 659.8 397.7 697.2 401.9 734.7 402.8 753.5 405.6 772.2 414.8 791.0 420.6 809.7 422.5 847.2 423.7 884.7 426.5 903.4 428.8 959.7 438.6 973.6 441.9 978.4 443.6 992.3 451.2 992.6 460.6 982.2 470.0 978.4 472.4 959.7 481.5 940.9 497.8 927.6 507.4 922.2 510.7 903.4 513.8 828.4 515.3 809.7 518.3 791.0 527.4 782.8 535.5 772.2 542.1 767.4 544.9 753.5 550.8 734.7 553.1 716.0 556.2 678.5 568.8 659.8 572.9 622.3 578.2 583.9 582.4 566.0 587.2 547.3 593.7 528.5 598.9 459.7 610.5 439.1 619.9 431.5 629.2 422.5 638.6 416.1 640.9 397.3 644.3 378.6 645.2 341.1 643.4 303.6 640.3 284.9 638.2 238.9 629.2 210.0 619.9 197.1 610.5 192.5 601.1 189.2 591.8 173.1 582.4 144.5 573.0 134.9 570.9 116.2 564.6 97.4 555.1 85.6 544.9 78.7 537.0 78.7 396.1 119.4 385.7 172.4 371.2 191.2 367.8 209.9 365.5 228.6 364.0 322.4 358.0 381.7 348.2ZM1409.2 404.4 1409.5 517.5 1401.8 507.4 1396.9 498.1 1393.7 488.7 1391.9 479.3 1391.3 470.0 1391.7 451.2 1392.7 441.9 1395.0 432.5 1398.9 423.1 1409.2 404.4Z"/><path fill="#1cffdb" fill-rule="evenodd" d="M239.2 376.3 266.1 375.4 322.4 375.3 341.1 374.6 378.6 370.3 397.3 370.2 416.1 373.9 421.0 376.3 434.8 386.5 443.8 395.0 453.6 401.6 459.8 404.4 472.3 407.2 491.1 408.8 528.5 409.0 584.8 406.5 622.3 406.1 641.0 407.1 659.8 408.9 697.2 414.1 734.7 415.4 753.5 418.9 772.2 427.2 791.0 433.7 809.7 436.4 828.4 436.8 865.9 436.1 884.7 437.1 903.4 439.2 922.2 442.3 940.9 446.1 957.1 451.2 965.6 460.6 959.7 465.1 955.4 470.0 940.9 483.0 922.2 495.6 903.4 500.3 884.7 501.4 865.9 501.1 828.4 497.8 809.7 498.0 791.0 505.7 779.1 516.8 756.8 535.5 753.5 537.4 734.7 540.8 716.0 543.4 697.2 549.6 688.6 554.3 678.5 558.6 659.8 565.0 641.0 568.8 622.3 571.3 584.8 574.3 566.0 576.9 545.9 582.4 528.5 588.1 509.8 591.5 491.1 593.6 472.3 594.6 434.8 597.9 397.3 599.9 359.9 600.6 341.1 600.1 322.4 598.6 303.6 595.4 290.9 591.8 266.1 586.5 255.2 582.4 247.4 580.7 224.3 573.0 191.2 563.5 172.4 561.1 153.7 559.9 134.9 557.0 126.7 554.3 116.2 550.8 105.8 544.9 97.4 538.8 78.7 519.7 78.7 412.8 97.4 405.4 116.2 400.4 153.7 392.1 191.2 382.0 209.9 378.6 239.2 376.3Z"/><path fill="#43ffb4" fill-rule="evenodd" d="M241.4 385.7 247.4 385.3 303.6 385.7 359.9 384.1 378.6 384.5 397.3 387.6 416.1 395.4 434.8 406.0 453.6 414.4 472.3 416.7 491.1 417.4 528.5 416.8 603.5 414.5 622.3 414.7 641.0 415.8 659.8 418.6 697.2 425.3 734.7 428.0 753.5 431.6 772.2 439.0 781.0 441.9 791.0 446.5 807.9 451.2 809.7 452.4 828.4 455.7 845.8 451.2 865.9 448.5 884.7 447.9 903.4 449.2 917.3 451.2 922.2 452.6 937.3 460.6 933.7 470.0 925.3 479.3 922.2 481.4 903.4 487.4 884.7 488.7 865.9 487.2 830.6 479.3 828.4 478.2 822.3 479.3 809.7 480.4 791.0 488.8 767.3 507.4 757.4 516.8 753.5 519.8 734.7 525.8 716.0 529.8 697.2 536.6 684.2 544.9 667.1 554.3 659.8 557.2 641.0 562.5 622.3 565.7 566.0 570.0 552.8 573.0 528.5 580.4 509.8 584.6 491.1 587.0 434.8 589.0 416.1 589.2 378.6 587.9 359.9 586.1 322.4 579.9 288.5 573.0 266.1 569.5 228.6 560.1 209.8 554.3 191.2 550.6 172.4 549.6 153.7 550.0 134.9 546.8 116.2 538.8 111.4 535.5 97.4 523.8 90.8 516.8 83.4 507.4 78.7 499.2 78.7 438.5 81.3 432.5 88.9 423.1 97.4 418.4 116.2 412.2 153.7 404.5 172.4 399.7 191.2 394.0 209.9 389.4 228.6 386.5 241.4 385.7Z"/><path fill="#6aff8d" fill-rule="evenodd" d="M235.3 395.0 247.4 393.9 284.9 394.4 341.1 392.3 359.9 392.5 378.6 394.4 397.3 398.6 416.1 406.4 434.8 415.6 453.6 421.1 472.3 423.8 491.1 424.2 603.5 422.0 622.3 422.6 641.0 424.4 659.8 428.1 697.2 437.0 734.7 440.7 741.8 441.9 753.5 444.8 765.9 451.2 773.5 460.6 773.8 470.0 769.4 479.3 758.1 498.1 753.5 501.8 734.7 510.7 716.0 516.1 697.2 525.1 682.3 535.5 666.3 544.9 647.4 554.3 641.0 556.3 622.3 560.3 603.5 562.2 566.0 564.3 509.8 578.5 491.1 581.2 472.3 582.3 416.1 581.6 378.6 578.6 359.9 576.2 266.1 559.9 208.0 544.9 191.2 542.4 153.7 541.9 134.9 537.2 131.3 535.5 116.4 526.2 106.5 516.8 98.8 507.4 93.7 498.1 91.0 488.7 89.7 479.3 89.3 460.6 90.9 451.2 94.5 441.9 97.4 436.7 100.6 432.5 116.2 423.1 134.9 419.3 153.7 417.2 169.5 413.8 209.9 400.1 228.6 395.7 235.3 395.0ZM875.3 470.0 884.7 465.8 894.7 470.0 884.7 472.1 875.3 470.0Z"/><path fill="#8dff6a" fill-rule="evenodd" d="M236.2 404.4 247.4 402.7 284.9 401.4 322.4 399.4 341.1 399.1 359.9 399.7 378.6 402.0 397.3 406.9 434.8 422.6 453.6 428.2 472.3 430.1 584.8 428.4 603.5 428.9 622.3 430.4 636.2 432.5 697.2 447.3 716.2 451.2 733.5 460.6 737.2 470.0 736.7 479.3 733.9 488.7 724.3 498.1 716.0 501.4 697.2 511.0 681.5 526.2 659.8 539.4 641.0 549.1 625.0 554.3 603.5 557.2 566.0 559.3 547.3 563.5 528.5 568.6 509.8 572.7 491.1 575.6 472.3 576.7 453.6 576.5 416.1 574.7 397.3 572.9 359.9 567.8 284.9 555.9 266.1 552.0 228.6 542.5 209.9 538.7 191.2 536.4 171.0 535.5 153.7 534.0 134.9 526.2 123.5 516.8 115.0 507.4 109.6 498.1 106.6 488.7 105.4 479.3 105.5 470.0 106.7 460.6 109.7 451.2 114.8 441.9 116.2 440.3 134.9 432.0 153.7 431.5 172.4 429.4 191.2 422.5 209.9 412.9 228.6 406.0 236.2 404.4Z"/><path fill="#b4ff43" fill-rule="evenodd" d="M241.4 413.8 247.4 412.2 266.1 409.5 303.6 406.5 322.4 405.6 341.1 405.4 359.9 406.3 378.6 408.8 397.3 414.1 434.8 429.9 453.6 435.0 472.3 436.0 509.8 434.8 566.0 434.2 584.8 434.5 603.5 435.8 622.3 438.5 637.0 441.9 672.8 451.2 678.5 453.7 692.8 460.6 698.9 470.0 699.8 479.3 697.9 488.7 690.7 498.1 682.3 507.4 675.6 516.8 664.5 526.2 641.0 539.7 629.8 544.9 622.3 547.4 603.5 550.9 566.0 554.3 547.3 558.3 528.5 563.4 509.8 567.1 491.1 569.6 472.3 570.7 453.6 570.3 416.1 567.9 303.6 552.4 284.9 549.1 228.6 535.5 209.9 532.3 172.4 528.8 158.1 526.2 153.7 524.8 141.3 516.8 131.5 507.4 125.3 498.1 122.1 488.7 121.5 479.3 123.5 470.0 128.2 460.6 134.9 453.4 153.7 449.1 172.4 447.3 191.2 443.7 196.1 441.9 209.9 434.6 223.3 423.1 228.6 419.9 241.4 413.8Z"/><path fill="#dbff1c" fill-rule="evenodd" d="M289.5 413.8 303.6 412.1 322.4 411.3 341.1 411.3 359.9 412.4 378.6 415.2 397.3 420.9 434.8 436.9 453.6 441.3 472.3 441.5 528.5 439.3 566.0 439.2 584.8 440.2 603.5 442.5 622.3 446.8 637.0 451.2 659.0 460.6 666.2 470.0 667.6 479.3 666.4 488.7 661.1 507.4 655.0 516.8 640.5 526.2 622.3 535.2 603.5 541.7 588.6 544.9 566.0 547.1 541.4 554.3 528.5 557.3 509.8 560.8 491.1 563.4 472.3 564.2 434.8 562.3 416.1 560.4 378.6 554.9 303.6 545.9 284.9 542.2 247.4 532.8 228.6 528.9 172.4 520.9 161.2 516.8 153.7 512.5 147.8 507.4 141.3 498.1 138.3 488.7 139.6 479.3 148.8 470.0 153.7 467.1 172.4 462.9 195.5 460.6 209.9 458.6 226.9 451.2 228.6 449.8 239.9 432.5 251.0 423.1 266.1 417.9 289.5 413.8Z"/><path fill="#feed00" fill-rule="evenodd" d="M277.0 423.1 284.9 421.1 303.6 418.1 322.4 417.4 341.1 417.6 359.9 418.8 378.6 421.7 383.3 423.1 397.3 428.0 416.1 436.5 434.8 443.5 453.6 446.3 472.3 446.5 528.5 443.7 547.3 443.6 566.0 444.2 584.8 446.2 603.5 449.7 609.3 451.2 634.3 460.6 642.9 470.0 644.2 479.3 643.8 488.7 642.3 498.1 638.9 507.4 630.3 516.8 622.3 521.5 612.5 526.2 603.5 529.7 584.8 534.3 566.0 537.6 544.3 544.9 528.5 549.6 509.8 553.3 491.1 555.2 472.3 556.0 434.8 554.0 416.1 552.2 397.3 549.5 341.1 543.7 303.6 539.0 247.4 525.7 228.6 522.0 191.2 515.8 172.4 510.3 167.4 507.4 159.1 498.1 157.6 488.7 166.2 479.3 172.4 476.9 191.2 474.1 228.6 472.3 236.6 470.0 247.4 463.3 249.1 460.6 255.2 441.9 261.3 432.5 266.1 429.1 277.0 423.1Z"/><path fill="#ffc100" fill-rule="evenodd" d="M281.1 432.5 284.9 430.5 303.6 424.8 322.4 424.0 341.1 424.2 359.9 425.5 378.6 428.9 397.3 435.6 416.1 444.1 434.8 449.5 453.6 451.3 472.3 451.4 528.5 447.8 547.3 447.8 566.0 449.2 579.4 451.2 584.8 452.5 609.5 460.6 621.6 470.0 624.1 479.3 623.8 488.7 622.0 498.1 616.3 507.4 606.0 516.8 603.5 518.0 584.8 524.6 547.3 533.4 528.5 539.3 509.8 543.3 498.1 544.9 491.1 545.8 472.3 546.8 434.8 545.3 341.1 536.5 303.6 531.2 282.3 526.2 266.1 521.6 241.8 516.8 228.6 513.1 199.7 507.4 191.2 502.2 186.4 498.1 191.2 491.6 199.4 488.7 209.9 487.5 228.6 487.1 247.4 484.0 254.3 479.3 263.8 470.0 266.1 464.0 269.3 451.2 272.5 441.9 281.1 432.5Z"/><path fill="#ff9400" fill-rule="evenodd" d="M312.4 432.5 322.4 431.4 341.1 431.4 359.9 432.8 378.6 436.9 391.8 441.9 416.1 452.5 434.8 457.6 453.6 458.6 472.3 457.4 528.5 452.2 547.3 452.4 566.0 455.5 584.7 460.6 599.1 470.0 602.7 479.3 601.3 488.7 596.8 498.1 588.3 507.4 584.8 509.8 569.1 516.8 528.5 528.0 491.1 535.5 472.3 536.6 445.4 535.5 359.9 529.6 322.4 525.5 303.6 521.3 288.2 516.8 270.7 507.4 270.6 498.1 279.3 479.3 281.8 470.0 282.8 460.6 284.9 450.7 290.6 441.9 303.6 434.2 312.4 432.5Z"/><path fill="#ff6c00" fill-rule="evenodd" d="M320.2 441.9 322.4 441.3 341.1 440.7 359.9 442.5 378.6 447.8 386.3 451.2 397.3 458.7 416.1 468.6 434.8 471.9 446.6 470.0 453.6 469.4 491.9 460.6 509.8 458.5 528.5 457.5 547.3 458.6 557.3 460.6 573.6 470.0 577.9 479.3 576.2 488.7 569.0 498.1 553.9 507.4 547.3 510.1 528.5 515.3 509.8 517.3 491.1 518.4 453.6 515.6 397.3 506.7 378.6 508.9 359.9 512.1 341.1 512.9 322.4 510.4 314.2 507.4 306.5 498.1 303.6 486.5 302.2 470.0 301.9 460.6 304.4 451.2 320.2 441.9Z"/><path fill="#ff3f00" fill-rule="evenodd" d="M489.5 470.0 509.8 465.6 528.5 465.0 547.3 469.6 548.0 470.0 553.3 479.3 551.4 488.7 547.3 493.3 540.3 498.1 528.5 502.6 509.8 504.4 491.1 501.2 482.7 498.1 474.9 488.7 477.3 479.3 489.5 470.0Z"/><use xlink:href="#coast" href="#coast" transform="translate(0,0.0)"/></g><rect x="78.7" y="132.7" width="1330.8" height="655.8" fill="none" stroke="#000" stroke-width="3.33"/><text x="257.4" y="108.6" font-size="51.5" textLength="973.4" lengthAdjust="spacingAndGlyphs">Combined (GIM), 2005-10-04 20:00 UT</text><rect x="78.70" y="831.9" width="61.09" height="65.6" fill="#000096"/><rect x="139.19" y="831.9" width="61.09" height="65.6" fill="#0000cd"/><rect x="199.68" y="831.9" width="61.09" height="65.6" fill="#0000ff"/><rect x="260.17" y="831.9" width="61.09" height="65.6" fill="#0020ff"/><rect x="320.66" y="831.9" width="61.09" height="65.6" fill="#0050ff"/><rect x="381.15" y="831.9" width="61.09" height="65.6" fill="#0080ff"/><rect x="441.65" y="831.9" width="61.09" height="65.6" fill="#00acff"/><rect x="502.14" y="831.9" width="61.09" height="65.6" fill="#00dcfe"/><rect x="562.63" y="831.9" width="61.09" height="65.6" fill="#1cffdb"/><rect x="623.12" y="831.9" width="61.09" height="65.6" fill="#43ffb4"/><rect x="683.61" y="831.9" width="61.09" height="65.6" fill="#6aff8d"/><rect x="744.10" y="831.9" width="61.09" height="65.6" fill="#8dff6a"/><rect x="804.59" y="831.9" width="61.09" height="65.6" fill="#b4ff43"/><rect x="865.08" y="831.9" width="61.09" height="65.6" fill="#dbff1c"/><rect x="925.57" y="831.9" width="61.09" height="65.6" fill="#feed00"/><rect x="986.06" y="831.9" width="61.09" height="65.6" fill="#ffc100"/><rect x="1046.55" y="831.9" width="61.09" height="65.6" fill="#ff9400"/><rect x="1107.05" y="831.9" width="61.09" height="65.6" fill="#ff6c00"/><rect x="1167.54" y="831.9" width="61.09" height="65.6" fill="#ff3f00"/><rect x="1228.03" y="831.9" width="61.09" height="65.6" fill="#ff1600"/><rect x="1288.52" y="831.9" width="61.09" height="65.6" fill="#cd0000"/><rect x="1349.01" y="831.9" width="60.49" height="65.6" fill="#960000"/><rect x="78.7" y="831.9" width="1330.8" height="65.6" fill="none" stroke="#000" stroke-width="3.33"/><line x1="78.7" y1="897.5" x2="78.7" y2="912.1" stroke="#000" stroke-width="3.33"/><text x="78.7" y="959.4" font-size="45" text-anchor="middle" textLength="66.3" lengthAdjust="spacingAndGlyphs">0.0</text><line x1="260.2" y1="897.5" x2="260.2" y2="912.1" stroke="#000" stroke-width="3.33"/><text x="260.2" y="959.4" font-size="45" text-anchor="middle" textLength="66.3" lengthAdjust="spacingAndGlyphs">7.5</text><line x1="441.6" y1="897.5" x2="441.6" y2="912.1" stroke="#000" stroke-width="3.33"/><text x="441.6" y="959.4" font-size="45" text-anchor="middle" textLength="92.7" lengthAdjust="spacingAndGlyphs">15.0</text><line x1="623.1" y1="897.5" x2="623.1" y2="912.1" stroke="#000" stroke-width="3.33"/><text x="623.1" y="959.4" font-size="45" text-anchor="middle" textLength="92.7" lengthAdjust="spacingAndGlyphs">22.5</text><line x1="804.6" y1="897.5" x2="804.6" y2="912.1" stroke="#000" stroke-width="3.33"/><text x="804.6" y="959.4" font-size="45" text-anchor="middle" textLength="92.7" lengthAdjust="spacingAndGlyphs">30.0</text><line x1="986.1" y1="897.5" x2="986.1" y2="912.1" stroke="#000" stroke-width="3.33"/><text x="986.1" y="959.4" font-size="45" text-anchor="middle" textLength="92.7" lengthAdjust="spacingAndGlyphs">37.5</text><line x1="1167.5" y1="897.5" x2="1167.5" y2="912.1" stroke="#000" stroke-width="3.33"/><text x="1167.5" y="959.4" font-size="45" text-anchor="middle" textLength="92.7" lengthAdjust="spacingAndGlyphs">45.0</text><line x1="1349.0" y1="897.5" x2="1349.0" y2="912.1" stroke="#000" stroke-width="3.33"/><text x="1349.0" y="959.4" font-size="45" text-anchor="middle" textLength="92.7" lengthAdjust="spacingAndGlyphs">52.5</text><g clip-path="url(#c1)"><rect x="78.7" y="1117.6" width="1330.8" height="655.8" fill="#000096"/><path fill="#000096" fill-rule="evenodd" d="M78.7 1117.6 1409.5 1117.6 1409.5 1773.4 78.7 1773.4 78.7 1117.6ZM1128.3 1367.3 1115.7 1370.6 1109.6 1373.6 1104.9 1379.9 1101.7 1389.3 1100.0 1398.7 1099.6 1408.0 1101.3 1417.4 1106.1 1426.8 1109.6 1430.8 1121.7 1436.1 1128.3 1438.2 1165.8 1440.0 1184.6 1442.7 1198.8 1445.5 1203.3 1447.7 1222.1 1451.4 1240.8 1439.8 1247.3 1426.8 1250.1 1417.4 1250.9 1408.0 1249.2 1398.7 1244.1 1389.3 1240.8 1385.9 1231.1 1379.9 1222.1 1376.3 1203.3 1372.1 1184.6 1369.5 1165.8 1367.6 1147.1 1366.6 1128.3 1367.3ZM1165.8 1481.2 1158.6 1483.0 1149.9 1492.3 1165.8 1500.5 1184.6 1501.0 1203.3 1496.0 1209.7 1492.3 1213.3 1483.0 1203.3 1476.5 1184.6 1478.3 1165.8 1481.2Z"/><path fill="#0000cd" fill-rule="evenodd" d="M78.7 1117.6 1409.5 1117.6 1409.5 1773.4 78.7 1773.4 78.7 1117.6ZM678.5 1133.9 659.8 1138.7 649.8 1145.7 643.9 1155.1 644.3 1164.4 650.0 1173.8 660.3 1183.2 679.0 1192.5 697.2 1198.3 734.7 1207.6 745.4 1211.3 759.7 1220.7 767.3 1230.0 772.2 1238.4 791.0 1244.7 809.7 1244.1 820.5 1239.4 847.2 1237.2 978.4 1232.2 997.1 1231.5 1015.9 1231.8 1053.4 1233.7 1090.9 1234.4 1222.1 1230.9 1240.8 1230.2 1259.6 1228.4 1278.3 1223.1 1282.9 1220.7 1297.0 1215.2 1315.8 1203.0 1324.1 1192.5 1326.7 1183.2 1323.0 1173.8 1315.8 1164.8 1297.0 1155.2 1278.3 1150.5 1222.1 1140.1 1203.3 1137.7 1185.9 1136.3 1053.4 1130.0 903.4 1127.4 753.5 1129.7 697.2 1132.2 678.5 1133.9ZM1053.4 1257.2 1015.9 1260.2 997.1 1261.1 940.9 1261.9 865.9 1264.9 847.2 1265.2 828.4 1264.7 809.7 1267.4 797.9 1276.9 791.0 1279.0 734.7 1276.8 716.0 1282.1 697.2 1292.5 694.0 1295.6 688.2 1305.0 685.0 1314.3 684.8 1323.7 690.4 1333.1 697.2 1336.9 716.0 1341.1 734.7 1342.6 772.2 1343.4 791.0 1350.0 793.5 1351.8 812.5 1361.2 862.6 1370.6 903.4 1374.3 947.1 1379.9 978.4 1383.2 997.1 1385.7 1015.9 1389.6 1034.6 1398.4 1043.6 1408.0 1048.2 1417.4 1051.3 1426.8 1057.1 1445.5 1059.2 1454.9 1059.8 1464.2 1059.4 1473.6 1057.9 1483.0 1054.6 1492.3 1050.0 1501.7 1044.0 1511.1 1034.6 1521.9 1024.6 1529.8 1015.9 1534.5 997.1 1540.6 978.4 1544.5 959.7 1546.0 922.2 1546.3 884.7 1548.0 828.4 1554.4 809.6 1557.9 799.0 1567.3 804.8 1576.7 809.7 1578.9 828.4 1582.7 850.1 1586.0 865.9 1589.8 886.4 1595.4 913.4 1604.8 930.9 1614.1 940.9 1623.4 943.3 1632.9 934.4 1642.2 916.8 1651.6 894.4 1661.0 828.4 1683.1 791.0 1696.6 772.2 1706.6 770.6 1707.8 764.7 1717.2 764.6 1726.6 772.2 1733.4 780.1 1735.9 791.0 1737.9 809.7 1739.5 884.7 1743.8 922.2 1745.4 1034.6 1747.1 1072.1 1746.8 1184.6 1743.8 1240.8 1743.3 1259.6 1739.7 1264.9 1735.9 1264.8 1726.6 1259.6 1720.6 1254.6 1717.2 1235.5 1707.8 1224.6 1698.5 1219.5 1689.1 1220.3 1679.7 1225.8 1670.3 1233.7 1661.0 1240.8 1654.1 1250.7 1642.2 1256.5 1632.9 1259.1 1623.5 1261.0 1604.8 1262.9 1595.4 1266.7 1586.0 1273.5 1576.7 1278.3 1571.7 1281.6 1567.3 1293.9 1548.6 1298.5 1539.2 1301.0 1529.8 1305.5 1501.7 1309.2 1483.0 1310.0 1473.6 1309.3 1445.5 1309.5 1426.8 1314.6 1389.3 1316.0 1370.6 1314.3 1323.7 1312.9 1305.0 1310.2 1286.2 1307.0 1276.9 1300.3 1267.5 1297.0 1264.3 1278.3 1255.8 1259.6 1252.5 1240.8 1252.0 1147.1 1254.8 1072.1 1256.0 1053.4 1257.2Z"/><path fill="#0000ff" fill-rule="evenodd" d="M78.7 1117.6 556.4 1117.6 561.7 1127.0 566.0 1136.6 577.0 1164.4 581.8 1173.8 587.8 1183.2 597.1 1192.5 611.8 1201.9 622.3 1206.8 681.3 1230.0 694.2 1239.4 697.2 1245.5 698.7 1248.8 696.0 1258.1 687.3 1267.5 678.5 1274.8 667.2 1286.2 660.8 1295.6 657.2 1305.0 655.3 1314.3 655.0 1323.7 656.3 1333.1 659.8 1339.2 662.4 1342.4 678.5 1351.5 697.2 1357.1 734.7 1365.5 791.0 1379.8 809.7 1383.5 828.4 1386.4 847.2 1388.5 865.9 1389.8 922.2 1391.6 959.7 1394.8 978.4 1397.2 997.1 1401.2 1011.8 1408.0 1020.7 1417.4 1026.1 1426.8 1030.1 1436.1 1032.7 1445.5 1033.9 1454.9 1033.5 1464.2 1031.6 1473.6 1028.0 1483.0 1022.0 1492.3 1015.9 1498.2 1011.3 1501.7 997.1 1510.0 978.4 1516.8 959.7 1520.9 940.9 1523.7 903.4 1527.6 889.2 1529.8 847.2 1536.8 809.7 1544.3 791.0 1550.2 773.7 1557.9 757.8 1567.3 753.5 1571.1 744.2 1576.7 740.5 1586.0 747.2 1595.4 753.5 1599.7 777.7 1614.1 789.9 1623.5 797.1 1632.9 798.7 1642.2 794.9 1651.6 786.8 1661.0 774.9 1670.3 753.5 1684.4 734.7 1698.3 725.3 1707.8 718.6 1717.2 716.0 1722.2 713.7 1726.6 710.5 1735.9 711.0 1745.3 716.0 1753.4 729.7 1764.0 734.7 1766.6 753.5 1771.2 772.2 1772.7 791.0 1772.4 809.7 1771.0 865.9 1765.6 903.4 1764.2 978.4 1766.1 1053.4 1765.5 1072.1 1766.6 1090.9 1768.6 1119.7 1773.4 78.7 1773.4 78.7 1117.6ZM1397.6 1211.3 1409.5 1202.4 1409.5 1773.4 1344.0 1773.4 1353.3 1761.8 1361.1 1754.7 1362.7 1745.3 1353.3 1744.2 1334.5 1738.9 1330.1 1735.9 1319.0 1726.6 1315.8 1723.5 1304.8 1707.8 1300.9 1698.5 1300.8 1689.1 1302.7 1679.7 1312.3 1642.2 1322.8 1586.0 1330.8 1557.9 1339.7 1529.8 1341.3 1520.4 1343.2 1501.7 1346.8 1483.0 1345.9 1473.6 1343.5 1464.2 1342.3 1454.9 1342.0 1436.1 1342.7 1426.8 1346.2 1408.0 1354.8 1370.6 1359.9 1342.4 1364.8 1286.2 1367.2 1267.5 1369.0 1258.1 1374.1 1239.4 1378.4 1230.0 1385.6 1220.7 1397.6 1211.3Z"/><path fill="#0020ff" fill-rule="evenodd" d="M425.3 1136.3 453.6 1129.2 472.3 1128.9 489.1 1136.3 491.1 1137.4 498.2 1145.7 504.8 1155.1 509.8 1163.6 521.1 1192.5 526.0 1201.9 534.6 1211.3 549.6 1220.7 566.0 1226.5 578.7 1230.0 617.4 1239.4 622.3 1241.3 635.4 1248.8 639.7 1258.1 637.7 1267.5 634.6 1276.9 632.2 1286.2 631.2 1295.6 631.5 1314.3 633.4 1333.1 635.8 1342.4 641.0 1350.4 642.3 1351.8 657.8 1361.2 678.5 1368.5 753.5 1390.1 772.2 1395.4 791.0 1399.1 809.7 1401.7 847.2 1404.6 903.4 1404.9 940.9 1406.0 959.7 1407.3 978.4 1410.5 992.9 1417.4 997.1 1420.5 1002.5 1426.8 1008.8 1436.1 1012.3 1445.5 1013.3 1454.9 1011.9 1464.2 1007.9 1473.6 1001.0 1483.0 997.1 1486.9 989.2 1492.3 978.4 1497.4 964.6 1501.7 940.9 1506.9 922.2 1509.9 884.7 1513.5 865.9 1517.2 853.8 1520.4 828.4 1525.8 791.0 1536.2 772.2 1542.9 753.5 1550.8 733.0 1557.9 697.2 1568.0 678.5 1572.3 659.8 1574.9 651.0 1576.7 641.0 1580.9 633.7 1586.0 641.0 1591.8 651.6 1595.4 678.5 1600.1 697.2 1606.5 712.7 1614.1 725.6 1623.5 733.2 1632.9 736.3 1642.2 735.1 1651.6 730.2 1661.0 722.6 1670.3 713.5 1679.7 693.3 1698.5 685.6 1707.8 678.5 1719.8 659.8 1743.6 649.8 1754.7 641.0 1763.1 624.6 1773.4 78.7 1773.4 78.7 1339.8 79.9 1333.1 78.7 1321.5 78.7 1309.4 79.2 1305.0 83.0 1295.6 93.1 1276.9 97.2 1267.5 99.3 1258.1 98.7 1248.8 96.9 1239.4 96.5 1230.0 101.0 1220.7 115.6 1211.3 134.9 1204.9 172.4 1196.0 239.1 1183.2 247.4 1180.0 260.3 1173.8 282.0 1155.1 284.9 1153.6 303.6 1147.7 322.4 1145.0 397.3 1141.2 416.1 1138.4 425.3 1136.3ZM1409.0 1323.7 1409.5 1316.0 1409.5 1694.6 1397.1 1689.1 1390.8 1684.5 1385.4 1679.7 1379.0 1670.3 1375.0 1661.0 1372.5 1651.6 1371.1 1642.2 1370.4 1632.9 1370.4 1623.5 1371.8 1604.8 1374.7 1586.0 1376.9 1576.7 1380.1 1567.3 1384.8 1557.9 1397.8 1539.2 1400.0 1529.8 1386.2 1511.1 1381.2 1501.7 1378.1 1492.3 1374.6 1473.6 1372.4 1454.9 1372.5 1436.1 1373.6 1426.8 1375.6 1417.4 1385.6 1379.9 1390.8 1367.2 1404.3 1342.4 1407.8 1333.1 1409.0 1323.7Z"/><path fill="#0050ff" fill-rule="evenodd" d="M298.3 1211.3 359.9 1206.1 378.6 1205.6 397.3 1207.4 407.7 1211.3 416.1 1215.3 424.8 1220.7 451.3 1230.0 482.1 1239.4 515.7 1248.8 543.8 1258.1 566.0 1268.8 584.8 1281.7 597.2 1295.6 603.5 1304.7 607.2 1314.3 609.6 1323.7 610.8 1333.1 609.8 1351.8 614.3 1361.2 632.9 1370.6 678.5 1383.2 695.3 1389.3 734.7 1405.6 753.5 1411.9 772.2 1417.0 791.0 1420.2 809.7 1422.0 828.4 1422.2 884.7 1419.9 922.2 1420.1 940.9 1421.2 959.7 1424.1 967.4 1426.8 978.4 1432.0 983.2 1436.1 988.7 1445.5 989.7 1454.9 986.7 1464.2 978.4 1474.5 959.7 1483.8 940.9 1488.1 922.2 1490.7 903.4 1492.5 847.2 1495.2 828.4 1497.0 804.9 1501.7 791.0 1506.3 772.2 1514.1 753.5 1523.9 728.2 1539.2 707.0 1548.6 675.0 1557.9 636.3 1567.3 622.3 1573.4 602.4 1586.0 597.0 1595.4 603.5 1603.9 605.0 1604.8 622.3 1609.9 645.5 1614.1 659.8 1617.7 673.6 1623.5 681.7 1632.9 683.5 1642.2 681.2 1651.6 675.5 1661.0 666.9 1670.3 659.8 1677.3 646.0 1689.1 622.3 1712.5 603.5 1726.7 584.8 1736.8 566.0 1743.9 547.3 1748.5 528.5 1751.3 509.8 1752.7 491.1 1753.1 416.1 1750.5 397.3 1750.6 322.4 1755.5 284.9 1756.8 247.4 1755.7 191.2 1752.4 172.4 1749.4 153.7 1743.7 134.9 1735.0 116.2 1724.3 97.4 1712.0 78.7 1697.6 78.7 1652.5 134.9 1644.1 143.3 1642.2 141.8 1632.9 134.9 1629.9 125.1 1623.5 116.2 1619.5 88.3 1604.8 78.7 1597.3 78.7 1376.4 97.4 1375.9 116.2 1373.0 122.4 1370.6 134.9 1362.0 145.2 1351.8 153.7 1344.4 156.7 1342.4 164.1 1333.1 161.3 1323.7 154.4 1314.3 153.7 1311.9 152.2 1305.0 155.7 1295.6 165.9 1286.2 177.8 1276.9 187.0 1267.5 192.5 1258.1 196.6 1248.8 201.6 1239.4 211.7 1230.0 228.6 1222.7 235.2 1220.7 247.4 1218.0 266.1 1215.0 298.3 1211.3ZM1408.8 1408.0 1409.5 1405.9 1409.5 1502.6 1402.6 1492.3 1398.5 1483.0 1396.3 1473.6 1395.8 1464.2 1396.9 1445.5 1398.5 1436.1 1401.3 1426.8 1408.8 1408.0Z"/><path fill="#0080ff" fill-rule="evenodd" d="M291.6 1305.0 303.6 1300.9 322.4 1298.5 341.1 1298.2 359.9 1299.3 378.6 1301.5 397.3 1305.2 416.1 1309.9 434.8 1312.5 453.6 1312.2 509.8 1305.8 528.5 1305.2 547.3 1306.8 566.0 1312.3 569.1 1314.3 578.1 1323.7 579.9 1333.1 573.0 1342.4 566.0 1348.6 560.5 1351.8 549.4 1361.2 548.9 1370.6 566.0 1375.5 584.8 1378.3 622.3 1380.8 641.0 1383.0 659.8 1387.4 665.6 1389.3 687.0 1398.7 697.2 1405.1 716.0 1414.2 723.9 1417.4 734.7 1421.5 753.5 1427.5 782.9 1436.1 791.0 1439.6 809.7 1444.4 828.4 1443.6 850.2 1436.1 865.9 1433.7 884.7 1432.5 903.4 1432.9 926.8 1436.1 940.9 1441.7 947.4 1445.5 950.2 1454.9 942.5 1464.2 940.9 1465.0 922.2 1471.9 903.4 1475.0 884.7 1475.6 865.9 1473.9 828.4 1465.7 809.7 1468.1 798.7 1473.6 791.0 1476.0 772.2 1484.2 753.5 1493.2 739.0 1501.7 734.7 1504.3 716.0 1519.2 704.9 1529.8 692.5 1539.2 673.7 1548.6 659.8 1553.3 648.5 1557.9 616.5 1567.3 584.8 1586.2 566.0 1594.3 556.9 1595.4 547.3 1599.2 528.5 1601.6 524.6 1604.8 544.1 1614.1 587.1 1623.5 603.5 1629.1 612.7 1632.9 618.2 1642.2 612.6 1651.6 599.8 1661.0 584.8 1669.7 566.0 1679.0 543.6 1689.1 528.5 1696.9 505.1 1707.8 491.1 1712.4 472.3 1716.3 453.6 1717.6 434.8 1716.6 416.1 1713.0 397.3 1708.6 378.6 1712.5 375.9 1717.2 359.9 1723.2 352.9 1726.6 322.4 1733.6 303.6 1736.3 284.9 1738.0 266.1 1738.6 247.4 1738.1 228.6 1736.9 209.9 1734.6 191.2 1730.8 172.4 1724.9 154.7 1717.2 140.0 1707.8 130.5 1698.5 127.6 1689.1 133.9 1679.7 153.7 1673.4 175.3 1670.3 209.9 1668.4 228.6 1668.1 247.4 1668.5 284.9 1672.1 303.6 1675.7 322.4 1681.0 347.3 1689.1 359.9 1695.2 371.4 1698.5 378.6 1704.3 397.3 1704.3 399.6 1698.5 410.1 1689.1 415.8 1679.7 413.9 1670.3 405.1 1661.0 397.3 1654.9 390.5 1651.6 378.6 1648.9 322.4 1644.7 308.1 1642.2 284.9 1639.2 266.1 1635.9 253.6 1632.9 228.6 1627.9 184.7 1614.1 158.3 1604.8 143.4 1595.4 143.6 1586.0 160.3 1576.7 172.4 1570.6 177.8 1567.3 178.4 1557.9 172.4 1556.4 153.7 1548.4 116.2 1542.8 97.4 1537.0 86.9 1529.8 78.7 1519.5 78.7 1395.5 97.4 1395.5 116.2 1393.5 134.9 1387.4 162.2 1370.6 172.4 1363.3 176.6 1361.2 191.2 1355.3 237.7 1342.4 247.4 1336.3 253.8 1333.1 264.1 1323.7 266.1 1321.2 284.9 1307.5 291.6 1305.0Z"/><path fill="#00acff" fill-rule="evenodd" d="M353.2 1342.4 378.6 1342.3 397.3 1343.3 416.1 1345.3 434.8 1348.7 445.3 1351.8 453.6 1355.0 464.2 1361.2 486.2 1379.9 506.2 1389.3 509.8 1390.1 528.5 1391.6 584.8 1393.0 603.5 1393.2 622.3 1390.8 641.0 1391.3 659.8 1396.7 664.3 1398.7 678.5 1409.4 697.2 1420.6 710.5 1426.8 716.0 1429.9 731.4 1436.1 749.1 1445.5 754.2 1454.9 749.2 1464.2 739.1 1473.6 734.7 1476.7 716.0 1492.9 697.2 1511.1 688.9 1520.4 678.7 1529.8 667.4 1539.2 649.8 1548.6 641.0 1552.1 630.2 1557.9 603.5 1566.7 584.8 1578.5 566.0 1584.4 547.3 1585.5 528.5 1581.4 509.8 1575.6 503.6 1576.7 491.1 1580.8 477.4 1586.0 472.3 1589.0 434.8 1601.7 416.1 1595.1 395.5 1586.0 378.6 1584.1 359.9 1579.0 354.4 1576.7 322.4 1571.7 304.9 1567.3 284.9 1566.9 267.7 1567.3 266.1 1568.0 264.7 1567.3 247.4 1565.8 236.2 1557.9 228.6 1556.3 210.3 1548.6 191.2 1545.3 172.4 1543.4 153.7 1538.4 134.9 1535.3 116.2 1531.1 112.9 1529.8 97.4 1519.6 88.7 1511.1 78.7 1499.5 78.7 1418.9 97.4 1412.3 116.2 1407.9 134.9 1401.9 191.2 1372.6 209.9 1365.4 228.6 1360.7 303.6 1347.0 322.4 1344.5 353.2 1342.4ZM879.8 1454.9 884.7 1452.1 892.0 1454.9 884.7 1456.4 879.8 1454.9ZM243.0 1576.7 247.4 1572.8 255.3 1576.7 266.1 1578.3 290.3 1586.0 303.6 1589.0 359.9 1598.9 378.6 1603.7 385.7 1604.8 397.3 1608.3 416.1 1608.5 423.5 1614.1 416.1 1619.3 397.3 1617.0 378.6 1618.7 360.3 1623.5 341.1 1624.6 322.4 1624.6 302.3 1623.5 266.1 1618.7 247.4 1615.5 241.9 1614.1 220.7 1604.8 212.7 1595.4 219.8 1586.0 228.6 1580.1 243.0 1576.7ZM218.7 1689.1 228.6 1688.2 247.4 1688.4 266.1 1691.4 284.9 1696.7 289.2 1698.5 296.6 1707.8 284.9 1714.9 274.2 1717.2 266.1 1718.0 247.4 1717.6 228.6 1714.8 206.5 1707.8 197.5 1698.5 209.9 1691.3 218.7 1689.1Z"/><path fill="#00dcfe" fill-rule="evenodd" d="M317.3 1361.2 341.1 1359.2 359.9 1358.8 378.6 1359.5 397.3 1361.6 416.1 1365.7 428.6 1370.6 434.8 1373.3 463.4 1389.3 472.3 1392.8 491.1 1398.7 509.8 1401.0 566.0 1400.6 603.5 1402.9 622.3 1401.6 641.0 1401.5 659.8 1411.9 681.0 1426.8 691.4 1436.1 698.2 1445.5 702.2 1454.9 702.4 1464.2 700.2 1473.6 696.5 1483.0 691.4 1492.3 685.4 1501.7 678.5 1511.0 657.9 1529.8 641.0 1538.5 618.2 1548.6 608.0 1557.9 603.5 1559.2 584.8 1569.5 566.0 1577.3 547.3 1577.5 516.3 1567.3 509.8 1565.8 495.1 1567.3 472.3 1572.3 453.6 1574.8 434.8 1574.6 416.1 1572.0 394.5 1567.3 333.9 1557.9 303.6 1555.0 284.9 1551.7 266.1 1546.9 247.4 1544.2 228.6 1542.7 209.9 1538.8 172.4 1534.1 134.9 1526.6 119.4 1520.4 116.2 1518.6 106.2 1511.1 97.4 1503.0 88.9 1492.3 83.0 1483.0 78.7 1475.1 78.7 1442.0 85.2 1436.1 101.0 1426.8 123.6 1417.4 134.9 1413.7 148.2 1408.0 172.4 1395.5 191.2 1387.0 209.9 1379.6 228.6 1373.1 247.4 1369.0 266.1 1366.2 317.3 1361.2Z"/><path fill="#1cffdb" fill-rule="evenodd" d="M340.9 1370.6 359.9 1370.9 378.6 1372.6 397.3 1376.2 416.1 1382.6 430.1 1389.3 452.2 1398.7 472.3 1404.4 490.4 1408.0 509.8 1409.4 547.3 1407.0 566.0 1406.5 584.8 1407.6 622.3 1412.6 636.6 1417.4 641.0 1419.2 654.7 1426.8 665.1 1436.1 671.3 1445.5 674.2 1454.9 675.0 1464.2 674.1 1473.6 672.1 1483.0 669.0 1492.3 664.2 1501.7 656.7 1511.1 647.8 1520.4 634.1 1529.8 603.5 1543.7 594.5 1548.6 584.6 1557.9 566.0 1565.1 547.3 1567.6 509.8 1559.2 491.1 1560.7 472.3 1563.3 453.6 1565.0 434.8 1564.9 416.1 1563.2 341.1 1550.9 303.6 1546.0 266.1 1537.6 247.4 1535.5 228.6 1534.3 172.4 1525.7 153.7 1522.1 134.9 1516.2 125.6 1511.1 116.2 1504.8 112.5 1501.7 105.5 1492.3 101.5 1483.0 99.6 1473.6 98.9 1464.2 99.8 1454.9 107.1 1445.5 136.8 1426.8 153.7 1419.2 174.2 1408.0 193.6 1398.7 209.9 1392.4 228.6 1386.1 247.4 1380.1 266.1 1376.3 284.9 1373.9 303.6 1372.4 340.9 1370.6Z"/><path fill="#43ffb4" fill-rule="evenodd" d="M316.8 1379.9 341.1 1379.5 359.9 1380.8 378.6 1383.6 397.3 1389.0 422.2 1398.7 449.8 1408.0 472.3 1412.7 491.1 1415.2 509.8 1416.0 547.3 1412.4 566.0 1411.6 584.8 1412.5 607.8 1417.4 622.3 1422.8 631.4 1426.8 642.7 1436.1 649.3 1445.5 652.9 1454.9 654.2 1464.2 654.0 1473.6 652.7 1483.0 650.1 1492.3 645.2 1501.7 637.7 1511.1 627.0 1520.4 611.7 1529.8 603.5 1533.6 584.8 1543.9 572.0 1548.6 566.0 1552.0 547.3 1555.9 528.5 1555.9 509.8 1552.6 453.6 1557.6 434.8 1557.7 416.1 1556.4 397.3 1554.0 341.1 1543.3 303.6 1537.5 284.9 1533.2 266.1 1530.2 228.6 1526.8 191.2 1521.3 172.4 1517.6 153.7 1512.9 148.8 1511.1 134.9 1504.5 130.7 1501.7 122.9 1492.3 120.4 1483.0 121.9 1473.6 126.0 1464.2 131.0 1454.9 134.9 1451.8 145.1 1445.5 153.7 1441.0 165.6 1436.1 184.6 1426.8 191.2 1422.1 194.9 1417.4 206.2 1408.0 223.5 1398.7 247.4 1390.5 266.1 1385.3 284.9 1382.3 316.8 1379.9Z"/><path fill="#6aff8d" fill-rule="evenodd" d="M290.0 1389.3 303.6 1387.7 322.4 1387.0 341.1 1387.5 359.9 1389.5 378.6 1393.3 397.3 1399.3 420.4 1408.0 434.8 1412.5 453.6 1417.0 472.3 1419.8 491.1 1421.4 509.8 1421.6 547.3 1417.7 566.0 1416.4 585.5 1417.4 603.5 1423.4 612.0 1426.8 624.4 1436.1 631.6 1445.5 635.7 1454.9 637.6 1464.2 637.8 1473.6 636.3 1483.0 633.8 1492.3 629.3 1501.7 621.4 1511.1 609.4 1520.4 584.8 1535.1 566.0 1543.0 547.3 1547.9 528.5 1549.0 509.8 1545.1 484.5 1548.6 453.6 1551.2 434.8 1551.6 416.1 1550.6 397.3 1548.1 341.1 1535.6 284.9 1525.0 228.6 1519.5 191.2 1513.4 172.4 1509.0 153.5 1501.7 143.0 1492.3 141.1 1483.0 146.2 1473.6 153.7 1467.1 172.4 1458.2 209.9 1458.4 228.6 1455.6 230.0 1454.9 236.4 1445.5 235.2 1436.1 230.4 1426.8 228.8 1417.4 235.1 1408.0 252.7 1398.7 266.1 1394.4 284.9 1390.0 290.0 1389.3Z"/><path fill="#8dff6a" fill-rule="evenodd" d="M283.5 1398.7 303.6 1395.3 322.4 1394.4 341.1 1395.1 359.9 1397.6 378.6 1401.9 416.1 1415.2 434.8 1420.5 453.6 1424.1 472.3 1426.2 491.1 1427.1 509.8 1427.0 547.3 1423.2 566.0 1422.1 584.8 1424.0 592.9 1426.8 603.5 1433.0 607.8 1436.1 614.9 1445.5 619.6 1454.9 621.9 1464.2 622.2 1473.6 620.7 1483.0 617.8 1492.3 612.6 1501.7 604.8 1511.1 584.8 1524.9 576.1 1529.8 566.0 1534.4 547.3 1539.8 528.5 1539.0 509.8 1536.3 491.1 1540.5 453.6 1544.4 434.8 1545.3 416.1 1544.7 397.3 1541.9 386.0 1539.2 378.6 1536.5 359.9 1531.3 322.4 1524.2 303.6 1519.9 284.9 1516.8 228.6 1511.7 209.9 1508.0 191.2 1503.5 184.7 1501.7 172.4 1495.4 168.2 1492.3 166.9 1483.0 172.4 1476.3 181.0 1473.6 228.6 1469.8 247.4 1463.5 256.0 1454.9 257.8 1445.5 256.6 1436.1 253.7 1426.8 252.9 1417.4 260.5 1408.0 266.1 1405.2 283.5 1398.7Z"/><path fill="#b4ff43" fill-rule="evenodd" d="M286.7 1408.0 303.6 1403.7 322.4 1402.2 341.1 1402.9 359.9 1405.5 378.6 1410.0 416.1 1423.1 434.8 1428.1 453.6 1431.2 472.3 1432.4 491.1 1432.6 509.8 1432.0 547.3 1429.2 566.0 1429.0 584.8 1434.2 587.9 1436.1 596.6 1445.5 601.3 1454.9 603.5 1464.2 603.6 1473.6 601.7 1483.0 598.1 1492.3 591.4 1501.7 584.8 1508.1 566.0 1520.2 547.3 1526.8 528.5 1527.9 509.8 1527.1 491.1 1531.2 472.3 1534.2 434.8 1538.5 416.1 1538.4 397.3 1533.2 378.6 1526.1 359.9 1522.0 322.4 1516.8 297.8 1511.1 284.9 1507.5 266.1 1504.9 236.2 1501.7 228.6 1498.8 214.7 1492.3 228.6 1486.6 239.6 1483.0 247.4 1481.7 266.1 1475.2 268.2 1473.6 275.7 1464.2 277.0 1454.9 272.8 1426.8 273.8 1417.4 284.9 1408.9 286.7 1408.0Z"/><path fill="#dbff1c" fill-rule="evenodd" d="M296.7 1417.4 303.6 1414.2 322.4 1411.0 341.1 1411.3 359.9 1413.7 378.6 1417.9 404.8 1426.8 416.1 1432.2 434.8 1436.6 453.6 1438.8 472.3 1439.2 528.5 1436.1 548.3 1436.1 566.0 1440.5 573.9 1445.5 580.5 1454.9 582.9 1464.2 582.2 1473.6 578.7 1483.0 571.8 1492.3 566.0 1497.7 559.8 1501.7 547.3 1508.0 528.5 1512.6 509.8 1514.2 453.6 1524.0 434.8 1526.4 416.1 1524.6 409.0 1520.4 397.3 1516.9 378.6 1514.0 339.0 1511.1 322.4 1508.1 306.2 1501.7 296.1 1492.3 300.6 1473.6 300.9 1464.2 298.4 1454.9 294.5 1445.5 291.8 1436.1 291.3 1426.8 296.7 1417.4Z"/><path fill="#feed00" fill-rule="evenodd" d="M317.7 1426.8 322.4 1424.3 341.1 1422.3 359.9 1423.8 376.1 1426.8 378.6 1427.7 397.3 1437.9 416.1 1444.8 434.8 1448.2 453.6 1448.7 472.3 1447.5 486.9 1445.5 509.8 1443.7 528.5 1443.4 543.3 1445.5 547.3 1446.9 557.7 1454.9 561.3 1464.2 558.9 1473.6 550.9 1483.0 547.3 1485.8 528.5 1493.8 509.8 1497.1 491.1 1498.7 472.3 1499.3 434.8 1498.8 416.1 1497.0 385.0 1492.3 378.6 1490.7 359.9 1482.6 350.5 1473.6 341.1 1467.8 338.0 1464.2 322.4 1449.7 319.5 1445.5 315.1 1436.1 317.7 1426.8Z"/><path fill="#ffc100" fill-rule="evenodd" d="M504.2 1454.9 509.8 1454.1 522.6 1454.9 528.5 1456.0 535.3 1464.2 528.5 1472.7 524.7 1473.6 509.8 1476.0 488.9 1473.6 482.8 1464.2 491.1 1461.1 504.2 1454.9Z"/><use xlink:href="#coast" href="#coast" transform="translate(0,984.9)"/></g><rect x="78.7" y="1117.6" width="1330.8" height="655.8" fill="none" stroke="#000" stroke-width="3.33"/><text x="131.2" y="1092.1" font-size="51.5" textLength="1227.0" lengthAdjust="spacingAndGlyphs">Ionosphere&#160;&#160;(h=450.0&#160;km),&#160;2005-10-04&#160;20:00&#160;UT</text><rect x="78.70" y="1816.8" width="61.09" height="65.6" fill="#000096"/><rect x="139.19" y="1816.8" width="61.09" height="65.6" fill="#0000cd"/><rect x="199.68" y="1816.8" width="61.09" height="65.6" fill="#0000ff"/><rect x="260.17" y="1816.8" width="61.09" height="65.6" fill="#0020ff"/><rect x="320.66" y="1816.8" width="61.09" height="65.6" fill="#0050ff"/><rect x="381.15" y="1816.8" width="61.09" height="65.6" fill="#0080ff"/><rect x="441.65" y="1816.8" width="61.09" height="65.6" fill="#00acff"/><rect x="502.14" y="1816.8" width="61.09" height="65.6" fill="#00dcfe"/><rect x="562.63" y="1816.8" width="61.09" height="65.6" fill="#1cffdb"/><rect x="623.12" y="1816.8" width="61.09" height="65.6" fill="#43ffb4"/><rect x="683.61" y="1816.8" width="61.09" height="65.6" fill="#6aff8d"/><rect x="744.10" y="1816.8" width="61.09" height="65.6" fill="#8dff6a"/><rect x="804.59" y="1816.8" width="61.09" height="65.6" fill="#b4ff43"/><rect x="865.08" y="1816.8" width="61.09" height="65.6" fill="#dbff1c"/><rect x="925.57" y="1816.8" width="61.09" height="65.6" fill="#feed00"/><rect x="986.06" y="1816.8" width="61.09" height="65.6" fill="#ffc100"/><rect x="1046.55" y="1816.8" width="61.09" height="65.6" fill="#ff9400"/><rect x="1107.05" y="1816.8" width="61.09" height="65.6" fill="#ff6c00"/><rect x="1167.54" y="1816.8" width="61.09" height="65.6" fill="#ff3f00"/><rect x="1228.03" y="1816.8" width="61.09" height="65.6" fill="#ff1600"/><rect x="1288.52" y="1816.8" width="61.09" height="65.6" fill="#cd0000"/><rect x="1349.01" y="1816.8" width="60.49" height="65.6" fill="#960000"/><rect x="78.7" y="1816.8" width="1330.8" height="65.6" fill="none" stroke="#000" stroke-width="3.33"/><line x1="78.7" y1="1882.4" x2="78.7" y2="1897.0" stroke="#000" stroke-width="3.33"/><text x="78.7" y="1944.3" font-size="45" text-anchor="middle" textLength="66.3" lengthAdjust="spacingAndGlyphs">0.0</text><line x1="260.2" y1="1882.4" x2="260.2" y2="1897.0" stroke="#000" stroke-width="3.33"/><text x="260.2" y="1944.3" font-size="45" text-anchor="middle" textLength="66.3" lengthAdjust="spacingAndGlyphs">7.5</text><line x1="441.6" y1="1882.4" x2="441.6" y2="1897.0" stroke="#000" stroke-width="3.33"/><text x="441.6" y="1944.3" font-size="45" text-anchor="middle" textLength="92.7" lengthAdjust="spacingAndGlyphs">15.0</text><line x1="623.1" y1="1882.4" x2="623.1" y2="1897.0" stroke="#000" stroke-width="3.33"/><text x="623.1" y="1944.3" font-size="45" text-anchor="middle" textLength="92.7" lengthAdjust="spacingAndGlyphs">22.5</text><line x1="804.6" y1="1882.4" x2="804.6" y2="1897.0" stroke="#000" stroke-width="3.33"/><text x="804.6" y="1944.3" font-size="45" text-anchor="middle" textLength="92.7" lengthAdjust="spacingAndGlyphs">30.0</text><line x1="986.1" y1="1882.4" x2="986.1" y2="1897.0" stroke="#000" stroke-width="3.33"/><text x="986.1" y="1944.3" font-size="45" text-anchor="middle" textLength="92.7" lengthAdjust="spacingAndGlyphs">37.5</text><line x1="1167.5" y1="1882.4" x2="1167.5" y2="1897.0" stroke="#000" stroke-width="3.33"/><text x="1167.5" y="1944.3" font-size="45" text-anchor="middle" textLength="92.7" lengthAdjust="spacingAndGlyphs">45.0</text><line x1="1349.0" y1="1882.4" x2="1349.0" y2="1897.0" stroke="#000" stroke-width="3.33"/><text x="1349.0" y="1944.3" font-size="45" text-anchor="middle" textLength="92.7" lengthAdjust="spacingAndGlyphs">52.5</text><g clip-path="url(#c2)"><rect x="78.7" y="2102.5" width="1330.8" height="655.8" fill="#0000df"/><path fill="#0080ff" fill-rule="evenodd" d="M64.2 2257.5C66.5 2206.0 69.9 2256.6 78.0 2257.5C86.1 2258.3 101.0 2260.9 112.5 2262.7C124.1 2264.4 135.6 2266.3 147.1 2267.8C158.6 2269.4 170.1 2270.7 181.6 2272.0C193.2 2273.3 204.7 2274.6 216.2 2275.8C227.7 2276.9 239.2 2277.9 250.7 2278.9C262.3 2279.9 273.8 2280.3 285.3 2281.7C296.8 2283.0 308.3 2284.8 319.8 2286.8C331.4 2288.9 342.9 2292.1 354.4 2293.8C365.9 2295.4 377.4 2295.9 388.9 2296.5C400.5 2297.1 412.0 2296.9 423.5 2297.2C435.0 2297.5 446.5 2297.1 458.0 2298.2C469.6 2299.4 498.9 2304.5 492.6 2304.1C486.3 2303.8 428.9 2297.3 420.2 2296.1C411.5 2295.0 433.6 2296.7 440.4 2297.2C447.1 2297.7 453.8 2298.2 460.6 2299.2C467.3 2300.2 474.0 2301.7 480.7 2303.2C487.5 2304.7 494.2 2306.6 500.9 2308.3C507.7 2309.9 516.1 2312.3 521.1 2313.3C526.2 2314.3 527.8 2314.5 531.2 2314.3C534.6 2314.1 536.3 2313.6 541.3 2312.3C546.3 2311.0 554.8 2308.4 561.5 2306.2C568.2 2304.1 574.9 2301.9 581.7 2299.2C588.4 2296.5 589.1 2292.4 601.9 2290.1C614.6 2287.7 643.1 2287.7 658.2 2285.1C673.3 2282.6 681.2 2277.9 692.7 2274.7C704.3 2271.6 715.8 2268.7 727.3 2266.1C738.8 2263.5 750.3 2261.2 761.8 2259.2C773.4 2257.2 784.9 2255.7 796.4 2254.0C807.9 2252.3 819.4 2250.6 830.9 2248.8C842.5 2247.1 854.0 2245.4 865.5 2243.7C877.0 2241.9 888.5 2240.2 900.0 2238.5C911.6 2236.7 923.8 2234.7 934.6 2233.3C945.4 2231.8 954.2 2231.1 965.0 2229.8C975.8 2228.6 988.0 2226.7 999.5 2225.7C1011.1 2224.7 1022.6 2224.2 1034.1 2223.6C1045.6 2223.0 1057.1 2222.6 1068.6 2222.2C1080.2 2221.8 1091.7 2221.5 1103.2 2221.2C1114.7 2220.9 1126.2 2220.8 1137.7 2220.5C1149.3 2220.2 1160.8 2219.8 1172.3 2219.5C1183.8 2219.2 1195.3 2218.8 1206.8 2218.8C1218.4 2218.8 1229.9 2219.1 1241.4 2219.5C1252.9 2219.9 1264.4 2220.3 1275.9 2221.2C1287.5 2222.1 1299.0 2222.9 1310.5 2224.7C1322.0 2226.4 1333.5 2228.7 1345.0 2231.6C1356.6 2234.4 1368.8 2238.8 1379.6 2241.9C1390.4 2245.1 1401.9 2248.5 1410.0 2250.6C1418.1 2252.6 1425.0 2202.0 1428.0 2254.0C1431.0 2306.0 1431.0 2511.6 1428.0 2562.7C1425.0 2613.9 1418.1 2562.5 1410.0 2561.0C1401.9 2559.6 1390.4 2556.7 1379.6 2554.1C1368.8 2551.5 1353.7 2547.6 1345.0 2545.5C1336.4 2543.3 1333.5 2541.9 1327.8 2541.3C1322.0 2540.7 1319.1 2540.2 1310.5 2542.0C1301.9 2543.9 1287.5 2549.2 1275.9 2552.4C1264.4 2555.5 1252.9 2559.3 1241.4 2561.0C1229.9 2562.7 1218.4 2562.3 1206.8 2562.7C1195.3 2563.1 1183.8 2563.3 1172.3 2563.4C1160.8 2563.5 1149.3 2563.1 1137.7 2563.4C1126.2 2563.8 1114.7 2564.2 1103.2 2565.5C1091.7 2566.8 1080.2 2569.0 1068.6 2571.4C1057.1 2573.8 1045.6 2577.3 1034.1 2580.0C1022.6 2582.7 1011.1 2585.9 999.5 2587.6C988.0 2589.3 975.8 2589.3 965.0 2590.4C954.2 2591.4 945.4 2592.7 934.6 2593.8C923.8 2595.0 911.6 2595.6 900.0 2597.3C888.5 2599.0 877.0 2601.3 865.5 2604.2C854.0 2607.1 839.6 2611.4 830.9 2614.6C822.3 2617.7 819.4 2620.9 813.7 2623.2C807.9 2625.5 805.0 2626.4 796.4 2628.4C787.8 2630.4 773.4 2633.6 761.8 2635.3C750.3 2637.0 738.8 2637.6 727.3 2638.8C715.8 2639.9 704.3 2641.1 692.7 2642.2C681.2 2643.4 669.7 2644.2 658.2 2645.7C646.7 2647.1 635.2 2649.4 623.6 2650.8C612.1 2652.3 600.6 2653.4 589.1 2654.3C577.6 2655.2 566.1 2656.2 554.5 2656.0C543.0 2655.9 530.3 2654.4 520.0 2653.3C509.7 2652.1 502.9 2650.7 492.6 2649.1C482.3 2647.6 469.6 2646.0 458.0 2643.9C446.5 2641.9 435.0 2639.0 423.5 2637.0C412.0 2635.0 400.5 2633.9 388.9 2631.8C377.4 2629.8 365.9 2627.5 354.4 2624.9C342.9 2622.3 331.4 2618.6 319.8 2616.3C308.3 2614.0 296.8 2612.6 285.3 2611.1C273.8 2609.7 262.3 2608.8 250.7 2607.7C239.2 2606.5 227.7 2605.9 216.2 2604.2C204.7 2602.5 193.2 2600.5 181.6 2597.3C170.1 2594.1 158.6 2588.9 147.1 2585.2C135.6 2581.5 124.1 2577.7 112.5 2574.8C101.0 2572.0 86.1 2569.4 78.0 2567.9C69.9 2566.5 66.5 2617.9 64.2 2566.2C61.9 2514.5 61.9 2308.9 64.2 2257.5Z"/><path fill="#0080ff" fill-rule="evenodd" d="M174.7 2773.5C108.6 2770.9 177.0 2762.0 174.7 2757.9C172.4 2753.9 164.3 2753.1 160.9 2749.3C157.6 2745.6 155.6 2739.5 154.7 2735.5C153.8 2731.5 154.7 2728.6 155.7 2725.1C156.8 2721.7 156.6 2717.2 160.9 2714.8C165.2 2712.3 172.4 2711.3 181.6 2710.6C190.9 2709.9 198.9 2711.2 216.2 2710.6C233.5 2710.0 262.3 2708.2 285.3 2707.2C308.3 2706.1 331.4 2704.9 354.4 2704.4C377.4 2703.9 406.2 2704.4 423.5 2704.4C440.8 2704.4 446.5 2704.9 458.0 2704.4C469.6 2703.9 482.3 2701.6 492.6 2701.6C502.9 2701.6 509.7 2703.6 520.0 2704.4C530.3 2705.1 543.0 2705.4 554.5 2706.1C566.1 2706.8 577.6 2707.8 589.1 2708.5C600.6 2709.3 612.1 2709.9 623.6 2710.6C635.2 2711.4 647.8 2712.1 658.2 2713.0C668.6 2714.0 677.8 2715.1 685.8 2716.5C693.9 2717.9 700.8 2719.9 706.6 2721.7C712.3 2723.4 716.9 2725.1 720.4 2726.9C723.8 2728.6 726.7 2730.0 727.3 2732.0C727.9 2734.1 726.7 2736.6 723.8 2738.9C721.0 2741.3 716.4 2743.8 710.0 2745.9C703.7 2747.9 694.5 2749.6 685.8 2751.0C677.2 2752.5 668.6 2753.6 658.2 2754.5C647.8 2755.4 635.2 2755.6 623.6 2756.2C612.1 2756.8 597.7 2755.1 589.1 2757.9C580.5 2760.8 640.9 2770.9 571.8 2773.5C502.8 2776.1 240.9 2776.1 174.7 2773.5Z"/><path fill="#36ffc1" fill-rule="evenodd" d="M64.2 2304.1C66.5 2269.6 69.9 2303.5 78.0 2304.1C86.1 2304.7 101.0 2305.8 112.5 2307.6C124.1 2309.3 135.6 2311.3 147.1 2314.5C158.6 2317.6 173.0 2322.8 181.6 2326.6C190.3 2330.3 193.2 2332.9 198.9 2336.9C204.7 2341.0 210.4 2346.4 216.2 2350.8C222.0 2355.1 227.7 2359.1 233.5 2362.9C239.2 2366.6 242.1 2370.3 250.7 2373.2C259.4 2376.1 273.8 2377.8 285.3 2380.1C296.8 2382.4 308.3 2385.1 319.8 2387.0C331.4 2388.9 342.9 2390.2 354.4 2391.5C365.9 2392.9 381.3 2394.7 388.9 2395.0C396.5 2395.2 394.8 2395.0 400.0 2393.0C405.2 2391.0 413.5 2387.0 420.2 2382.9C426.9 2378.9 435.3 2372.0 440.4 2368.8C445.4 2365.6 447.1 2364.4 450.5 2363.8C453.8 2363.1 455.5 2363.4 460.6 2364.8C465.6 2366.1 474.0 2369.5 480.7 2371.8C487.5 2374.2 494.2 2376.9 500.9 2378.9C507.7 2380.9 514.4 2382.9 521.1 2384.0C527.8 2385.0 534.6 2385.8 541.3 2385.0C548.0 2384.1 556.4 2381.3 561.5 2378.9C566.5 2376.6 568.2 2374.5 571.6 2370.8C574.9 2367.1 578.3 2361.8 581.7 2356.7C585.0 2351.7 588.4 2344.9 591.8 2340.6C595.1 2336.2 596.8 2333.8 601.9 2330.5C606.9 2327.1 615.3 2323.4 622.0 2320.4C628.8 2317.3 636.2 2314.7 642.2 2312.3C648.3 2309.9 649.8 2308.1 658.2 2305.8C666.6 2303.6 681.2 2301.2 692.7 2298.9C704.3 2296.6 715.8 2294.0 727.3 2292.0C738.8 2290.0 750.3 2288.6 761.8 2286.8C773.4 2285.1 784.9 2283.4 796.4 2281.7C807.9 2279.9 819.4 2278.2 830.9 2276.5C842.5 2274.7 854.0 2273.0 865.5 2271.3C877.0 2269.6 888.5 2267.6 900.0 2266.1C911.6 2264.7 923.8 2263.6 934.6 2262.7C945.4 2261.7 954.2 2260.8 965.0 2260.2C975.8 2259.7 988.0 2259.7 999.5 2259.2C1011.1 2258.7 1022.6 2257.9 1034.1 2257.5C1045.6 2257.1 1057.1 2257.0 1068.6 2256.8C1080.2 2256.6 1091.7 2256.4 1103.2 2256.4C1114.7 2256.4 1126.2 2256.5 1137.7 2256.8C1149.3 2257.1 1160.8 2257.5 1172.3 2258.2C1183.8 2258.9 1195.3 2259.6 1206.8 2260.9C1218.4 2262.3 1232.8 2264.4 1241.4 2266.1C1250.0 2267.8 1252.9 2269.6 1258.7 2271.3C1264.4 2273.0 1270.2 2274.5 1275.9 2276.5C1281.7 2278.5 1287.5 2281.4 1293.2 2283.4C1299.0 2285.4 1301.9 2287.0 1310.5 2288.6C1319.1 2290.1 1333.5 2291.6 1345.0 2292.7C1356.6 2293.9 1368.8 2294.4 1379.6 2295.5C1390.4 2296.5 1401.9 2298.1 1410.0 2298.9C1418.1 2299.8 1425.0 2265.0 1428.0 2300.7C1431.0 2336.3 1431.0 2477.6 1428.0 2512.6C1425.0 2547.7 1415.2 2511.8 1410.0 2510.9C1404.8 2510.1 1401.9 2509.8 1396.9 2507.5C1391.8 2505.2 1385.4 2501.1 1379.6 2497.1C1373.8 2493.1 1368.1 2487.6 1362.3 2483.3C1356.6 2479.0 1350.8 2474.6 1345.0 2471.2C1339.3 2467.7 1333.5 2464.6 1327.8 2462.5C1322.0 2460.5 1316.3 2459.7 1310.5 2459.1C1304.7 2458.5 1299.0 2458.5 1293.2 2459.1C1287.5 2459.7 1280.6 2460.2 1275.9 2462.5C1271.3 2464.9 1269.6 2467.7 1265.6 2472.9C1261.6 2478.1 1256.9 2487.3 1251.8 2493.6C1246.6 2500.0 1242.0 2506.0 1234.5 2510.9C1227.0 2515.8 1217.2 2519.8 1206.8 2523.0C1196.5 2526.2 1183.8 2528.2 1172.3 2529.9C1160.8 2531.6 1149.3 2532.2 1137.7 2533.4C1126.2 2534.5 1114.7 2535.4 1103.2 2536.8C1091.7 2538.3 1080.2 2539.7 1068.6 2542.0C1057.1 2544.3 1045.6 2548.1 1034.1 2550.7C1022.6 2553.2 1011.1 2555.4 999.5 2557.6C988.0 2559.7 975.8 2561.7 965.0 2563.4C954.2 2565.2 945.4 2566.6 934.6 2567.9C923.8 2569.3 911.6 2570.2 900.0 2571.4C888.5 2572.5 877.0 2573.4 865.5 2574.8C854.0 2576.3 842.5 2578.0 830.9 2580.0C819.4 2582.0 807.9 2584.9 796.4 2586.9C784.9 2588.9 773.4 2590.8 761.8 2592.1C750.3 2593.4 738.8 2594.1 727.3 2594.9C715.8 2595.6 704.3 2595.9 692.7 2596.6C681.2 2597.3 669.7 2598.0 658.2 2599.0C646.7 2600.0 635.2 2601.3 623.6 2602.5C612.1 2603.6 600.6 2605.4 589.1 2605.9C577.6 2606.5 566.1 2606.5 554.5 2605.9C543.0 2605.4 530.3 2603.9 520.0 2602.5C509.7 2601.0 502.9 2599.0 492.6 2597.3C482.3 2595.6 469.6 2593.8 458.0 2592.1C446.5 2590.4 435.0 2589.5 423.5 2586.9C412.0 2584.3 397.6 2580.0 388.9 2576.6C380.3 2573.1 377.4 2570.2 371.7 2566.2C365.9 2562.2 363.0 2557.0 354.4 2552.4C345.8 2547.8 331.4 2542.6 319.8 2538.6C308.3 2534.5 296.8 2531.0 285.3 2528.2C273.8 2525.4 262.3 2523.6 250.7 2522.0C239.2 2520.4 227.7 2519.8 216.2 2518.5C204.7 2517.3 193.2 2516.1 181.6 2514.4C170.1 2512.6 158.6 2509.6 147.1 2508.2C135.6 2506.7 124.1 2505.4 112.5 2505.7C101.0 2506.1 86.1 2509.4 78.0 2510.2C69.9 2511.1 66.5 2545.3 64.2 2510.9C61.9 2476.6 61.9 2338.6 64.2 2304.1Z"/><path fill="#c1ff36" fill-rule="evenodd" d="M102.2 2406.0C102.2 2397.8 107.9 2393.4 112.5 2388.8C117.2 2384.2 124.1 2381.0 129.8 2378.4C135.6 2375.8 138.5 2374.7 147.1 2373.2C155.7 2371.8 170.1 2369.5 181.6 2369.8C193.2 2370.0 204.7 2372.4 216.2 2374.9C227.7 2377.5 239.2 2381.3 250.7 2385.3C262.3 2389.3 273.8 2395.1 285.3 2399.1C296.8 2403.2 308.3 2406.0 319.8 2409.5C331.4 2412.9 344.6 2415.6 354.4 2419.9C364.2 2424.1 373.4 2430.7 378.6 2434.9C383.8 2439.1 383.8 2441.8 385.5 2445.3C387.2 2448.7 388.7 2452.8 388.9 2455.6C389.2 2458.5 389.5 2458.5 387.2 2462.5C384.9 2466.6 380.6 2474.9 375.1 2479.8C369.7 2484.7 363.6 2489.0 354.4 2491.9C345.2 2494.8 331.4 2496.8 319.8 2497.1C308.3 2497.4 296.8 2495.1 285.3 2493.6C273.8 2492.2 262.3 2490.2 250.7 2488.5C239.2 2486.7 227.7 2485.3 216.2 2483.3C204.7 2481.3 193.2 2479.2 181.6 2476.4C170.1 2473.5 155.7 2469.5 147.1 2466.0C138.5 2462.5 135.6 2460.2 129.8 2455.6C124.1 2451.0 117.2 2446.6 112.5 2438.4C107.9 2430.1 102.2 2414.3 102.2 2406.0Z"/><path fill="#c1ff36" fill-rule="evenodd" d="M440.4 2440.1C440.8 2439.2 447.1 2432.5 450.5 2429.4C453.8 2426.2 455.5 2423.2 460.6 2421.3C465.6 2419.4 474.0 2418.8 480.7 2418.3C487.5 2417.8 494.2 2418.1 500.9 2418.3C507.7 2418.4 514.4 2419.1 521.1 2419.3C527.8 2419.4 534.6 2419.6 541.3 2419.3C548.0 2418.9 554.8 2419.6 561.5 2417.3C568.2 2414.9 574.9 2409.9 581.7 2405.2C588.4 2400.4 595.1 2395.7 601.9 2389.0C608.6 2382.3 615.3 2371.8 622.0 2364.8C628.8 2357.7 636.2 2352.4 642.2 2346.6C648.3 2340.8 649.8 2334.2 658.2 2330.0C666.6 2325.8 681.2 2323.4 692.7 2321.4C704.3 2319.4 715.8 2318.5 727.3 2317.9C738.8 2317.4 750.3 2317.9 761.8 2317.9C773.4 2317.9 784.9 2318.5 796.4 2317.9C807.9 2317.4 819.4 2315.6 830.9 2314.5C842.5 2313.3 854.0 2311.9 865.5 2311.0C877.0 2310.2 888.5 2309.7 900.0 2309.3C911.6 2308.9 923.8 2308.6 934.6 2308.6C945.4 2308.6 954.2 2309.6 965.0 2309.3C975.8 2309.0 988.0 2307.4 999.5 2306.5C1011.1 2305.7 1022.6 2304.3 1034.1 2304.1C1045.6 2303.9 1057.1 2304.9 1068.6 2305.2C1080.2 2305.4 1091.7 2305.4 1103.2 2305.8C1114.7 2306.2 1128.5 2306.4 1137.7 2307.6C1147.0 2308.7 1152.7 2310.7 1158.5 2312.8C1164.2 2314.8 1168.8 2316.2 1172.3 2319.7C1175.8 2323.1 1178.3 2328.3 1179.2 2333.5C1180.1 2338.7 1178.6 2344.4 1177.5 2350.8C1176.3 2357.1 1174.9 2364.6 1172.3 2371.5C1169.7 2378.4 1165.4 2385.3 1161.9 2392.2C1158.5 2399.1 1154.4 2406.3 1151.6 2412.9C1148.7 2419.6 1147.2 2426.6 1144.7 2431.9C1142.1 2437.3 1137.7 2439.6 1136.0 2445.3C1134.3 2451.0 1136.3 2460.8 1134.3 2466.0C1132.3 2471.2 1130.3 2474.1 1123.9 2476.4C1117.6 2478.7 1105.5 2478.4 1096.3 2479.8C1087.1 2481.3 1079.0 2482.1 1068.6 2485.0C1058.3 2487.9 1045.6 2492.2 1034.1 2497.1C1022.6 2502.0 1011.1 2508.6 999.5 2514.4C988.0 2520.1 975.8 2527.9 965.0 2531.6C954.2 2535.4 945.4 2535.4 934.6 2536.8C923.8 2538.3 911.6 2539.1 900.0 2540.3C888.5 2541.4 877.0 2542.9 865.5 2543.7C854.0 2544.6 842.5 2544.6 830.9 2545.5C819.4 2546.3 807.9 2547.2 796.4 2548.9C784.9 2550.7 773.4 2554.0 761.8 2555.8C750.3 2557.7 738.8 2559.5 727.3 2560.0C715.8 2560.4 704.3 2560.2 692.7 2558.6C681.2 2557.0 669.7 2554.0 658.2 2550.7C646.7 2547.3 635.2 2542.9 623.6 2538.6C612.1 2534.2 600.6 2528.5 589.1 2524.7C577.6 2521.0 566.1 2518.1 554.5 2516.1C543.0 2514.1 525.3 2513.2 520.0 2512.6C514.7 2512.1 527.6 2513.8 523.0 2512.6C518.4 2511.5 500.5 2508.0 492.6 2505.7C484.6 2503.4 481.1 2502.0 475.3 2498.8C469.6 2495.7 463.8 2491.1 458.0 2486.7C452.3 2482.4 444.8 2477.8 440.8 2472.9C436.7 2468.0 434.4 2462.0 433.9 2457.4C433.3 2452.8 435.0 2449.0 437.3 2445.3C439.6 2441.5 447.2 2435.8 447.7 2434.9C448.2 2434.0 439.9 2441.0 440.4 2440.1Z"/><path fill="#ff9400" fill-rule="evenodd" d="M169.6 2431.9C170.1 2429.4 175.6 2424.1 178.2 2421.6C180.8 2419.1 181.6 2417.1 185.1 2417.1C188.6 2417.1 193.7 2419.4 198.9 2421.6C204.1 2423.8 212.7 2427.1 216.2 2430.2C219.7 2433.3 221.4 2437.6 219.7 2440.1C217.9 2442.6 211.0 2444.5 205.8 2445.3C200.7 2446.0 193.7 2446.0 188.6 2444.6C183.4 2443.1 177.9 2438.7 174.7 2436.6C171.6 2434.5 169.0 2434.5 169.6 2431.9Z"/><path fill="#ff9400" fill-rule="evenodd" d="M616.7 2431.9C621.6 2427.7 634.0 2412.7 640.9 2406.0C647.8 2399.4 652.4 2396.0 658.2 2392.2C664.0 2388.5 669.7 2385.9 675.5 2383.6C681.2 2381.3 687.0 2379.3 692.7 2378.4C698.5 2377.5 704.3 2377.5 710.0 2378.4C715.8 2379.3 721.5 2381.3 727.3 2383.6C733.1 2385.9 738.8 2388.5 744.6 2392.2C750.3 2396.0 756.1 2401.4 761.8 2406.0C767.6 2410.6 774.5 2416.2 779.1 2419.9C783.7 2423.5 787.5 2424.3 789.5 2428.0C791.5 2431.7 791.2 2436.6 791.2 2441.8C791.2 2447.0 790.9 2452.8 789.5 2459.1C788.0 2465.4 786.0 2472.9 782.6 2479.8C779.1 2486.7 773.9 2494.8 768.8 2500.6C763.6 2506.3 758.4 2510.3 751.5 2514.4C744.6 2518.4 735.9 2522.8 727.3 2524.7C718.7 2526.6 710.0 2526.9 699.7 2525.8C689.3 2524.6 676.0 2521.7 665.1 2517.8C654.2 2513.9 643.8 2508.6 634.0 2502.3C624.2 2495.9 613.0 2485.3 606.4 2479.8C599.8 2474.4 596.7 2473.2 594.3 2469.5C591.9 2465.7 591.3 2461.4 591.9 2457.4C592.4 2453.3 594.5 2449.6 597.7 2445.3C601.0 2441.0 608.4 2433.7 611.6 2431.5C614.7 2429.2 611.8 2436.2 616.7 2431.9Z"/><path fill="#ff9400" fill-rule="evenodd" d="M820.6 2431.9C820.6 2429.4 821.2 2424.2 824.0 2419.9C826.9 2415.5 833.3 2409.0 837.9 2406.0C842.5 2403.0 847.1 2402.2 851.7 2401.9C856.3 2401.6 862.0 2401.9 865.5 2404.3C869.0 2406.7 871.3 2411.6 872.4 2416.4C873.6 2421.2 873.0 2428.9 872.4 2433.2C871.8 2437.4 870.7 2439.2 869.0 2441.8C867.2 2444.4 865.5 2447.3 862.0 2448.7C858.6 2450.2 852.8 2451.0 848.2 2450.5C843.6 2449.9 838.4 2447.9 834.4 2445.3C830.4 2442.7 826.3 2437.1 824.0 2434.9C821.7 2432.7 820.6 2434.5 820.6 2431.9Z"/><path fill="#df0000" fill-rule="evenodd" d="M696.2 2431.5C701.4 2431.9 708.3 2433.8 713.5 2436.6C718.7 2439.5 724.5 2444.7 727.3 2448.7C730.1 2452.8 730.4 2456.8 730.1 2460.8C729.8 2464.9 728.3 2469.2 725.6 2472.9C722.8 2476.7 718.4 2480.9 713.5 2483.3C708.6 2485.7 702.0 2487.4 696.2 2487.4C690.4 2487.4 683.8 2486.0 678.9 2483.3C674.0 2480.6 669.6 2475.5 666.8 2471.2C664.1 2466.9 662.1 2462.0 662.3 2457.4C662.6 2452.8 665.2 2447.4 668.6 2443.5C671.9 2439.7 677.8 2436.2 682.4 2434.2C687.0 2432.2 691.0 2431.1 696.2 2431.5Z"/><use xlink:href="#coast" href="#coast" transform="translate(0,1969.8)"/></g><rect x="78.7" y="2102.5" width="1330.8" height="655.8" fill="none" stroke="#000" stroke-width="3.33"/><text x="86.2" y="2076.8" font-size="51.5" textLength="1315.4" lengthAdjust="spacingAndGlyphs">Plasmasphere (h=1500.0 km), 2005-10-04 20:00 UT</text><rect x="78.70" y="2801.7" width="222.40" height="65.6" fill="#0000df"/><rect x="300.50" y="2801.7" width="222.40" height="65.6" fill="#0080ff"/><rect x="522.30" y="2801.7" width="222.40" height="65.6" fill="#36ffc1"/><rect x="744.10" y="2801.7" width="222.40" height="65.6" fill="#c1ff36"/><rect x="965.90" y="2801.7" width="222.40" height="65.6" fill="#ff9400"/><rect x="1187.70" y="2801.7" width="221.80" height="65.6" fill="#df0000"/><rect x="78.7" y="2801.7" width="1330.8" height="65.6" fill="none" stroke="#000" stroke-width="3.33"/><line x1="78.7" y1="2867.3" x2="78.7" y2="2881.9" stroke="#000" stroke-width="3.33"/><text x="78.7" y="2929.2" font-size="45" text-anchor="middle" textLength="66.3" lengthAdjust="spacingAndGlyphs">0.0</text><line x1="300.5" y1="2867.3" x2="300.5" y2="2881.9" stroke="#000" stroke-width="3.33"/><text x="300.5" y="2929.2" font-size="45" text-anchor="middle" textLength="66.3" lengthAdjust="spacingAndGlyphs">2.5</text><line x1="522.3" y1="2867.3" x2="522.3" y2="2881.9" stroke="#000" stroke-width="3.33"/><text x="522.3" y="2929.2" font-size="45" text-anchor="middle" textLength="66.3" lengthAdjust="spacingAndGlyphs">5.0</text><line x1="744.1" y1="2867.3" x2="744.1" y2="2881.9" stroke="#000" stroke-width="3.33"/><text x="744.1" y="2929.2" font-size="45" text-anchor="middle" textLength="66.3" lengthAdjust="spacingAndGlyphs">7.5</text><line x1="965.9" y1="2867.3" x2="965.9" y2="2881.9" stroke="#000" stroke-width="3.33"/><text x="965.9" y="2929.2" font-size="45" text-anchor="middle" textLength="92.7" lengthAdjust="spacingAndGlyphs">10.0</text><line x1="1187.7" y1="2867.3" x2="1187.7" y2="2881.9" stroke="#000" stroke-width="3.33"/><text x="1187.7" y="2929.2" font-size="45" text-anchor="middle" textLength="92.7" lengthAdjust="spacingAndGlyphs">12.5</text><line x1="1409.5" y1="2867.3" x2="1409.5" y2="2881.9" stroke="#000" stroke-width="3.33"/><text x="1409.5" y="2929.2" font-size="45" text-anchor="middle" textLength="92.7" lengthAdjust="spacingAndGlyphs">15.0</text></svg></body></html>
